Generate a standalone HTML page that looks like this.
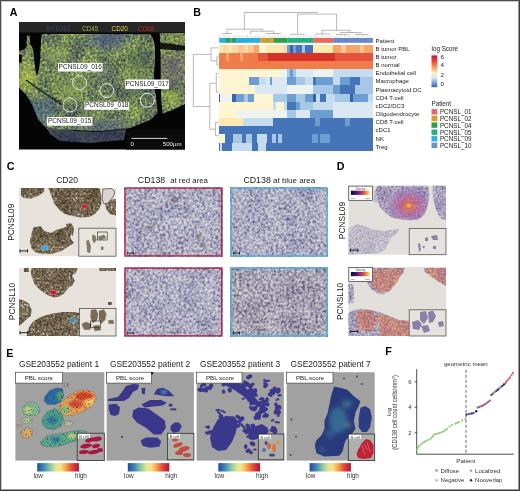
<!DOCTYPE html>
<html><head><meta charset="utf-8"><title>figure</title>
<style>
html,body{margin:0;padding:0;background:#fff;}
body{width:520px;height:491px;overflow:hidden;position:relative;font-family:"Liberation Sans",sans-serif;}
svg{position:absolute;left:0;top:0;display:block;will-change:transform;}
</style></head><body>
<svg width="520" height="491" viewBox="0 0 520 491" font-family="'Liberation Sans', sans-serif">
<defs><filter id="nA" x="0" y="0" width="100%" height="100%" color-interpolation-filters="sRGB">
<feTurbulence type="fractalNoise" baseFrequency="0.05" numOctaves="2" seed="3" result="lo0"/>
<feColorMatrix in="lo0" type="matrix" values="1 0 0 0 0 1 0 0 0 0 1 0 0 0 0 0 0 0 0 1" result="lo"/>
<feTurbulence type="fractalNoise" baseFrequency="0.42" numOctaves="2" seed="4" result="hi0"/>
<feColorMatrix in="hi0" type="matrix" values="1 0 0 0 0 1 0 0 0 0 1 0 0 0 0 0 0 0 0 1" result="hi"/>
<feComposite in="lo" in2="hi" operator="arithmetic" k1="0" k2="0.7" k3="1.5" k4="-0.55" result="mx"/>
<feColorMatrix in="mx" type="matrix" values="1 0 0 0 0 1 0 0 0 0 1 0 0 0 0 0 0 0 0 1"/>
<feComponentTransfer><feFuncR type="table" tableValues="0.157 0.259 0.361 0.463 0.569 0.706"/><feFuncG type="table" tableValues="0.188 0.314 0.431 0.541 0.651 0.776"/><feFuncB type="table" tableValues="0.306 0.376 0.361 0.345 0.337 0.412"/></feComponentTransfer><feGaussianBlur stdDeviation="0.35"/>
</filter>
<filter id="nBr" x="0" y="0" width="100%" height="100%" color-interpolation-filters="sRGB">
<feTurbulence type="fractalNoise" baseFrequency="0.07" numOctaves="2" seed="5" result="lo0"/>
<feColorMatrix in="lo0" type="matrix" values="1 0 0 0 0 1 0 0 0 0 1 0 0 0 0 0 0 0 0 1" result="lo"/>
<feTurbulence type="fractalNoise" baseFrequency="0.45" numOctaves="2" seed="6" result="hi0"/>
<feColorMatrix in="hi0" type="matrix" values="1 0 0 0 0 1 0 0 0 0 1 0 0 0 0 0 0 0 0 1" result="hi"/>
<feComposite in="lo" in2="hi" operator="arithmetic" k1="0" k2="0.6" k3="1.5" k4="-0.6" result="mx"/>
<feColorMatrix in="mx" type="matrix" values="1 0 0 0 0 1 0 0 0 0 1 0 0 0 0 0 0 0 0 1"/>
<feComponentTransfer><feFuncR type="table" tableValues="0.267 0.345 0.424 0.510 0.627 0.804"/><feFuncG type="table" tableValues="0.220 0.294 0.369 0.455 0.588 0.776"/><feFuncB type="table" tableValues="0.149 0.212 0.282 0.369 0.510 0.737"/></feComponentTransfer><feGaussianBlur stdDeviation="0.25"/>
</filter>
<filter id="nCD" x="0" y="0" width="100%" height="100%" color-interpolation-filters="sRGB">
<feTurbulence type="fractalNoise" baseFrequency="0.06" numOctaves="2" seed="9" result="lo0"/>
<feColorMatrix in="lo0" type="matrix" values="1 0 0 0 0 1 0 0 0 0 1 0 0 0 0 0 0 0 0 1" result="lo"/>
<feTurbulence type="fractalNoise" baseFrequency="0.38" numOctaves="2" seed="10" result="hi0"/>
<feColorMatrix in="hi0" type="matrix" values="1 0 0 0 0 1 0 0 0 0 1 0 0 0 0 0 0 0 0 1" result="hi"/>
<feComposite in="lo" in2="hi" operator="arithmetic" k1="0" k2="0.5" k3="1.7" k4="-0.55" result="mx"/>
<feColorMatrix in="mx" type="matrix" values="1 0 0 0 0 1 0 0 0 0 1 0 0 0 0 0 0 0 0 1"/>
<feComponentTransfer><feFuncR type="table" tableValues="0.373 0.494 0.608 0.706 0.784 0.855"/><feFuncG type="table" tableValues="0.384 0.502 0.612 0.698 0.773 0.839"/><feFuncB type="table" tableValues="0.557 0.651 0.722 0.773 0.808 0.839"/></feComponentTransfer><feGaussianBlur stdDeviation="0.3"/>
</filter>
<filter id="nCDb" x="0" y="0" width="100%" height="100%" color-interpolation-filters="sRGB">
<feTurbulence type="fractalNoise" baseFrequency="0.06" numOctaves="2" seed="15" result="lo0"/>
<feColorMatrix in="lo0" type="matrix" values="1 0 0 0 0 1 0 0 0 0 1 0 0 0 0 0 0 0 0 1" result="lo"/>
<feTurbulence type="fractalNoise" baseFrequency="0.38" numOctaves="2" seed="16" result="hi0"/>
<feColorMatrix in="hi0" type="matrix" values="1 0 0 0 0 1 0 0 0 0 1 0 0 0 0 0 0 0 0 1" result="hi"/>
<feComposite in="lo" in2="hi" operator="arithmetic" k1="0" k2="0.5" k3="1.7" k4="-0.6" result="mx"/>
<feColorMatrix in="mx" type="matrix" values="1 0 0 0 0 1 0 0 0 0 1 0 0 0 0 0 0 0 0 1"/>
<feComponentTransfer><feFuncR type="table" tableValues="0.392 0.502 0.608 0.698 0.776 0.839"/><feFuncG type="table" tableValues="0.376 0.478 0.588 0.675 0.757 0.824"/><feFuncB type="table" tableValues="0.490 0.588 0.667 0.729 0.776 0.816"/></feComponentTransfer><feGaussianBlur stdDeviation="0.3"/>
</filter>
<filter id="nD" x="0" y="0" width="100%" height="100%" color-interpolation-filters="sRGB">
<feTurbulence type="fractalNoise" baseFrequency="0.08" numOctaves="2" seed="11" result="lo0"/>
<feColorMatrix in="lo0" type="matrix" values="1 0 0 0 0 1 0 0 0 0 1 0 0 0 0 0 0 0 0 1" result="lo"/>
<feTurbulence type="fractalNoise" baseFrequency="0.5" numOctaves="2" seed="12" result="hi0"/>
<feColorMatrix in="hi0" type="matrix" values="1 0 0 0 0 1 0 0 0 0 1 0 0 0 0 0 0 0 0 1" result="hi"/>
<feComposite in="lo" in2="hi" operator="arithmetic" k1="0" k2="0.5" k3="1.4" k4="-0.45" result="mx"/>
<feColorMatrix in="mx" type="matrix" values="1 0 0 0 0 1 0 0 0 0 1 0 0 0 0 0 0 0 0 1"/>
<feComponentTransfer><feFuncR type="table" tableValues="0.431 0.549 0.659 0.765 0.855"/><feFuncG type="table" tableValues="0.392 0.510 0.627 0.745 0.839"/><feFuncB type="table" tableValues="0.588 0.675 0.745 0.804 0.847"/></feComponentTransfer>
</filter>
<filter id="nDo" x="0" y="0" width="100%" height="100%" color-interpolation-filters="sRGB">
<feTurbulence type="fractalNoise" baseFrequency="0.08" numOctaves="2" seed="13" result="lo0"/>
<feColorMatrix in="lo0" type="matrix" values="1 0 0 0 0 1 0 0 0 0 1 0 0 0 0 0 0 0 0 1" result="lo"/>
<feTurbulence type="fractalNoise" baseFrequency="0.5" numOctaves="2" seed="14" result="hi0"/>
<feColorMatrix in="hi0" type="matrix" values="1 0 0 0 0 1 0 0 0 0 1 0 0 0 0 0 0 0 0 1" result="hi"/>
<feComposite in="lo" in2="hi" operator="arithmetic" k1="0" k2="0.5" k3="1.4" k4="-0.45" result="mx"/>
<feColorMatrix in="mx" type="matrix" values="1 0 0 0 0 1 0 0 0 0 1 0 0 0 0 0 0 0 0 1"/>
<feComponentTransfer><feFuncR type="table" tableValues="0.471 0.667 0.824 0.882 0.894"/><feFuncG type="table" tableValues="0.353 0.392 0.490 0.627 0.784"/><feFuncB type="table" tableValues="0.549 0.471 0.373 0.471 0.706"/></feComponentTransfer>
</filter>
<filter id="spk" x="0" y="0" width="100%" height="100%" color-interpolation-filters="sRGB"><feTurbulence type="fractalNoise" baseFrequency="0.7" numOctaves="1" seed="21"/><feColorMatrix type="matrix" values="0 0 0 0 0.1 0 0 0 0 0.12 0 0 0 0 0.2 9 0 0 0 -5.2"/></filter></defs>
<text x="9.8" y="15.8" font-size="10.7" fill="#000" text-anchor="start" font-weight="bold" >A</text>
<text x="193.3" y="15.8" font-size="10.7" fill="#000" text-anchor="start" font-weight="bold" >B</text>
<text x="6.8" y="169.9" font-size="10.7" fill="#000" text-anchor="start" font-weight="bold" >C</text>
<text x="336.8" y="170.2" font-size="10.7" fill="#000" text-anchor="start" font-weight="bold" >D</text>
<text x="6.2" y="356.7" font-size="10.7" fill="#000" text-anchor="start" font-weight="bold" >E</text>
<text x="385.2" y="354.9" font-size="10.7" fill="#000" text-anchor="start" font-weight="bold" >F</text>
<rect x="19" y="22" width="166" height="127.5" fill="#050505"/>
<clipPath id="cA"><path d="M19,34 L150,34 L153,38 L155,46 L155,60 L154,75 L155,90 L157,100 L161,110 L150,120 L130,128 L100,131 L75,130 L48,130 L38.6,120 L31.7,103.8 L25.9,94.6 L19,87.7 Z"/><path d="M19,34 L19,35 Z"/><path d="M159.5,33 L185,33 L185,104 L172,110 L162,114 L160.5,100 L160.5,70 L160,50 Z"/><path d="M185,104 L185,104 Z"/></clipPath>
<rect x="19" y="33" width="166" height="100" filter="url(#nA)" clip-path="url(#cA)"/>
<filter id="blr" x="-50%" y="-50%" width="200%" height="200%"><feGaussianBlur stdDeviation="5"/></filter>
<g clip-path="url(#cA)" filter="url(#blr)" opacity="0.45"><ellipse cx="108" cy="40" rx="22" ry="9" fill="#3a4a9a"/><ellipse cx="38" cy="112" rx="18" ry="14" fill="#3a5a98"/><ellipse cx="174" cy="70" rx="12" ry="16" fill="#7a6078"/><ellipse cx="100" cy="126" rx="30" ry="6" fill="#3a4a9a"/></g>
<g clip-path="url(#cA)" filter="url(#blr)" opacity="0.5"><ellipse cx="27" cy="78" rx="10" ry="12" fill="#c8dc40"/><ellipse cx="172" cy="96" rx="8" ry="8" fill="#a8c040"/><ellipse cx="172" cy="37" rx="10" ry="4" fill="#b0c040"/></g>
<g clip-path="url(#cA)" filter="url(#blr)" opacity="0.35"><ellipse cx="70" cy="88" rx="14" ry="10" fill="#a8c850"/><ellipse cx="90" cy="115" rx="12" ry="8" fill="#a0c058"/><ellipse cx="60" cy="55" rx="12" ry="10" fill="#98b060"/></g>
<g clip-path="url(#cA)" filter="url(#blr)" opacity="0.35"><ellipse cx="140" cy="62" rx="12" ry="14" fill="#3a5040"/><ellipse cx="126" cy="96" rx="10" ry="8" fill="#3a5048"/><ellipse cx="105" cy="74" rx="8" ry="7" fill="#4a4a98"/></g>
<path d="M29.7,32.6 L42,32.6 L41.5,36 L41,42 L40.6,50 L40.2,58 L39.5,65 L38.8,70 L37,76 L35.6,71 L34.8,65 L34,58 L33.4,51 L32,47 L30,44 Z" fill="#050505"/>
<path d="M19,32.6 L27,32.6 L26.8,40 L26.5,47 L24,49.5 L19,51 Z" fill="#050505"/>
<path d="M26,32.6 L31,32.6 L30,35.7 L27,35.7 Z" fill="#050505"/>
<path d="M19,54 L21.8,55 L21.8,62 L19,63 Z" fill="#050505"/>
<path d="M150,33 L159.5,33 L160,42 L160.5,55 L160.5,70 L160.5,85 L161,98 L162.5,114 L158,114 L156.5,102 L155.5,90 L155,75 L155.5,60 L155.5,46 L153,38 Z" fill="#050505"/>
<path d="M160,42.5 L170,43.5 L185,46 L185,50.5 L172,50 L160,49 Z" fill="#050505" opacity="0.85"/>
<path d="M26,80 L40,90 L52,98 L64,106" stroke="#101418" stroke-width="1.7" fill="none" opacity="0.75"/>
<clipPath id="cAb"><path d="M46,127 L75,131 L100,132 L126,129 L124,140 L90,143 L60,141 L50,134 Z"/></clipPath>
<rect x="40" y="125" width="90" height="20" fill="#2a2c60" opacity="0.8" clip-path="url(#cAb)"/>
<rect x="40" y="125" width="90" height="20" filter="url(#nA)" opacity="0.3" clip-path="url(#cAb)"/>
<rect x="19" y="22" width="166" height="10.5" fill="#262626"/>
<text x="46" y="30.6" font-size="6.3" fill="#3c4478" text-anchor="start" font-weight="normal" >SYTO13</text>
<text x="82.2" y="30.6" font-size="6.3" fill="#a8b048" text-anchor="start" font-weight="normal" >CD45</text>
<text x="111.6" y="30.6" font-size="6.3" fill="#ecd840" text-anchor="start" font-weight="normal" >CD20</text>
<text x="138" y="30.6" font-size="6.3" fill="#c42424" text-anchor="start" font-weight="normal" >CD68</text>
<rect x="126" y="130" width="59" height="19.5" fill="#0a0a0a"/>
<line x1="131.5" y1="138.4" x2="167.4" y2="138.4" stroke="#eee" stroke-width="0.9"/>
<text x="132.3" y="145.8" font-size="6.2" fill="#eee" text-anchor="middle" font-weight="normal" >0</text>
<text x="162.7" y="145.8" font-size="6.2" fill="#eee" text-anchor="start" font-weight="normal" >500µm</text>
<circle cx="79.6" cy="82.6" r="7" fill="none" stroke="#f4f4f0" stroke-width="0.9"/>
<circle cx="106.8" cy="90.6" r="7" fill="none" stroke="#f4f4f0" stroke-width="0.9"/>
<circle cx="147.3" cy="100.2" r="7" fill="none" stroke="#f4f4f0" stroke-width="0.9"/>
<circle cx="70" cy="105" r="7" fill="none" stroke="#f4f4f0" stroke-width="0.9"/>
<rect x="58" y="62.9" width="44.599999999999994" height="8.600000000000001" fill="#fff"/>
<text x="80.3" y="68.8" font-size="6.5" fill="#222" text-anchor="middle" font-weight="normal" >PCNSL09_016</text>
<rect x="125.3" y="79.5" width="43.7" height="9.5" fill="#fff"/>
<text x="147.15" y="85.85" font-size="6.5" fill="#222" text-anchor="middle" font-weight="normal" >PCNSL09_017</text>
<rect x="84.4" y="101.8" width="44.599999999999994" height="8.0" fill="#fff"/>
<text x="106.7" y="107.39999999999999" font-size="6.5" fill="#222" text-anchor="middle" font-weight="normal" >PCNSL09_018</text>
<rect x="47" y="117" width="45.400000000000006" height="8.700000000000003" fill="#fff"/>
<text x="69.7" y="122.94999999999999" font-size="6.5" fill="#222" text-anchor="middle" font-weight="normal" >PCNSL09_015</text>
<filter id="hb" x="-2%" y="-2%" width="104%" height="104%"><feGaussianBlur stdDeviation="0.6"/></filter><g filter="url(#hb)">
<rect x="219.20" y="44.60" width="4.10" height="8.47" fill="#fde8ad" shape-rendering="crispEdges"/>
<rect x="223.00" y="44.60" width="5.30" height="8.47" fill="#fbd9a6" shape-rendering="crispEdges"/>
<rect x="228.00" y="44.60" width="4.30" height="8.47" fill="#fde8ad" shape-rendering="crispEdges"/>
<rect x="232.00" y="44.60" width="6.30" height="8.47" fill="#fbd9a6" shape-rendering="crispEdges"/>
<rect x="238.00" y="44.60" width="6.30" height="8.47" fill="#f9c794" shape-rendering="crispEdges"/>
<rect x="244.00" y="44.60" width="4.30" height="8.47" fill="#fbd9a6" shape-rendering="crispEdges"/>
<rect x="248.00" y="44.60" width="6.30" height="8.47" fill="#f9c794" shape-rendering="crispEdges"/>
<rect x="254.00" y="44.60" width="5.30" height="8.47" fill="#f6a468" shape-rendering="crispEdges"/>
<rect x="259.00" y="44.60" width="7.30" height="8.47" fill="#fef5d2" shape-rendering="crispEdges"/>
<rect x="266.00" y="44.60" width="7.30" height="8.47" fill="#fde8ad" shape-rendering="crispEdges"/>
<rect x="273.00" y="44.60" width="10.30" height="8.47" fill="#fde8ad" shape-rendering="crispEdges"/>
<rect x="283.00" y="44.60" width="4.30" height="8.47" fill="#fbd9a6" shape-rendering="crispEdges"/>
<rect x="287.00" y="44.60" width="3.30" height="8.47" fill="#6d9ed2" shape-rendering="crispEdges"/>
<rect x="290.00" y="44.60" width="3.30" height="8.47" fill="#3464ad" shape-rendering="crispEdges"/>
<rect x="293.00" y="44.60" width="3.30" height="8.47" fill="#6d9ed2" shape-rendering="crispEdges"/>
<rect x="296.00" y="44.60" width="6.30" height="8.47" fill="#4574b8" shape-rendering="crispEdges"/>
<rect x="302.00" y="44.60" width="3.30" height="8.47" fill="#a6c7e5" shape-rendering="crispEdges"/>
<rect x="305.00" y="44.60" width="8.30" height="8.47" fill="#4574b8" shape-rendering="crispEdges"/>
<rect x="313.00" y="44.60" width="20.30" height="8.47" fill="#fde8ad" shape-rendering="crispEdges"/>
<rect x="333.00" y="44.60" width="8.30" height="8.47" fill="#f6a468" shape-rendering="crispEdges"/>
<rect x="341.00" y="44.60" width="5.30" height="8.47" fill="#f9c794" shape-rendering="crispEdges"/>
<rect x="346.00" y="44.60" width="14.30" height="8.47" fill="#f6a468" shape-rendering="crispEdges"/>
<rect x="360.00" y="44.60" width="4.30" height="8.47" fill="#f9c794" shape-rendering="crispEdges"/>
<rect x="364.00" y="44.60" width="9.30" height="8.47" fill="#f6a468" shape-rendering="crispEdges"/>
<rect x="219.20" y="52.77" width="7.10" height="8.47" fill="#f07c4a" shape-rendering="crispEdges"/>
<rect x="226.00" y="52.77" width="3.30" height="8.47" fill="#f6a468" shape-rendering="crispEdges"/>
<rect x="229.00" y="52.77" width="11.30" height="8.47" fill="#f07c4a" shape-rendering="crispEdges"/>
<rect x="240.00" y="52.77" width="3.30" height="8.47" fill="#f6a468" shape-rendering="crispEdges"/>
<rect x="243.00" y="52.77" width="15.30" height="8.47" fill="#f07c4a" shape-rendering="crispEdges"/>
<rect x="258.00" y="52.77" width="10.30" height="8.47" fill="#e5553a" shape-rendering="crispEdges"/>
<rect x="268.00" y="52.77" width="17.30" height="8.47" fill="#d73027" shape-rendering="crispEdges"/>
<rect x="285.00" y="52.77" width="11.30" height="8.47" fill="#d73027" shape-rendering="crispEdges"/>
<rect x="296.00" y="52.77" width="39.30" height="8.47" fill="#d73027" shape-rendering="crispEdges"/>
<rect x="335.00" y="52.77" width="38.30" height="8.47" fill="#e5553a" shape-rendering="crispEdges"/>
<rect x="219.20" y="60.94" width="21.10" height="8.47" fill="#f07c4a" shape-rendering="crispEdges"/>
<rect x="240.00" y="60.94" width="18.30" height="8.47" fill="#f07c4a" shape-rendering="crispEdges"/>
<rect x="258.00" y="60.94" width="29.30" height="8.47" fill="#f07c4a" shape-rendering="crispEdges"/>
<rect x="287.00" y="60.94" width="86.30" height="8.47" fill="#f07c4a" shape-rendering="crispEdges"/>
<rect x="219.20" y="69.11" width="61.10" height="8.47" fill="#fef5d2" shape-rendering="crispEdges"/>
<rect x="280.00" y="69.11" width="7.30" height="8.47" fill="#eef3ef" shape-rendering="crispEdges"/>
<rect x="287.00" y="69.11" width="3.30" height="8.47" fill="#a6c7e5" shape-rendering="crispEdges"/>
<rect x="290.00" y="69.11" width="3.30" height="8.47" fill="#6d9ed2" shape-rendering="crispEdges"/>
<rect x="293.00" y="69.11" width="3.30" height="8.47" fill="#a6c7e5" shape-rendering="crispEdges"/>
<rect x="296.00" y="69.11" width="17.30" height="8.47" fill="#d9e8f2" shape-rendering="crispEdges"/>
<rect x="313.00" y="69.11" width="20.30" height="8.47" fill="#eef3ef" shape-rendering="crispEdges"/>
<rect x="333.00" y="69.11" width="40.30" height="8.47" fill="#c4dcee" shape-rendering="crispEdges"/>
<rect x="219.20" y="77.28" width="30.10" height="8.47" fill="#fef5d2" shape-rendering="crispEdges"/>
<rect x="249.00" y="77.28" width="10.30" height="8.47" fill="#6d9ed2" shape-rendering="crispEdges"/>
<rect x="259.00" y="77.28" width="7.30" height="8.47" fill="#c4dcee" shape-rendering="crispEdges"/>
<rect x="266.00" y="77.28" width="4.30" height="8.47" fill="#d9e8f2" shape-rendering="crispEdges"/>
<rect x="270.00" y="77.28" width="2.30" height="8.47" fill="#6d9ed2" shape-rendering="crispEdges"/>
<rect x="272.00" y="77.28" width="15.30" height="8.47" fill="#d9e8f2" shape-rendering="crispEdges"/>
<rect x="287.00" y="77.28" width="9.30" height="8.47" fill="#6d9ed2" shape-rendering="crispEdges"/>
<rect x="296.00" y="77.28" width="9.30" height="8.47" fill="#a6c7e5" shape-rendering="crispEdges"/>
<rect x="305.00" y="77.28" width="8.30" height="8.47" fill="#c4dcee" shape-rendering="crispEdges"/>
<rect x="313.00" y="77.28" width="3.30" height="8.47" fill="#4574b8" shape-rendering="crispEdges"/>
<rect x="316.00" y="77.28" width="17.30" height="8.47" fill="#6d9ed2" shape-rendering="crispEdges"/>
<rect x="333.00" y="77.28" width="7.30" height="8.47" fill="#c4dcee" shape-rendering="crispEdges"/>
<rect x="340.00" y="77.28" width="10.30" height="8.47" fill="#6d9ed2" shape-rendering="crispEdges"/>
<rect x="350.00" y="77.28" width="10.30" height="8.47" fill="#4574b8" shape-rendering="crispEdges"/>
<rect x="360.00" y="77.28" width="13.30" height="8.47" fill="#a6c7e5" shape-rendering="crispEdges"/>
<rect x="219.20" y="85.45" width="36.10" height="8.47" fill="#fef5d2" shape-rendering="crispEdges"/>
<rect x="255.00" y="85.45" width="32.30" height="8.47" fill="#d9e8f2" shape-rendering="crispEdges"/>
<rect x="287.00" y="85.45" width="9.30" height="8.47" fill="#eef3ef" shape-rendering="crispEdges"/>
<rect x="296.00" y="85.45" width="17.30" height="8.47" fill="#eef3ef" shape-rendering="crispEdges"/>
<rect x="313.00" y="85.45" width="20.30" height="8.47" fill="#a6c7e5" shape-rendering="crispEdges"/>
<rect x="333.00" y="85.45" width="7.30" height="8.47" fill="#6d9ed2" shape-rendering="crispEdges"/>
<rect x="340.00" y="85.45" width="15.30" height="8.47" fill="#4574b8" shape-rendering="crispEdges"/>
<rect x="355.00" y="85.45" width="18.30" height="8.47" fill="#a6c7e5" shape-rendering="crispEdges"/>
<rect x="219.20" y="93.62" width="1.10" height="8.47" fill="#3464ad" shape-rendering="crispEdges"/>
<rect x="220.00" y="93.62" width="12.30" height="8.47" fill="#eef3ef" shape-rendering="crispEdges"/>
<rect x="232.00" y="93.62" width="4.30" height="8.47" fill="#3464ad" shape-rendering="crispEdges"/>
<rect x="236.00" y="93.62" width="8.30" height="8.47" fill="#6d9ed2" shape-rendering="crispEdges"/>
<rect x="244.00" y="93.62" width="4.30" height="8.47" fill="#a6c7e5" shape-rendering="crispEdges"/>
<rect x="248.00" y="93.62" width="6.30" height="8.47" fill="#6d9ed2" shape-rendering="crispEdges"/>
<rect x="254.00" y="93.62" width="19.30" height="8.47" fill="#fef5d2" shape-rendering="crispEdges"/>
<rect x="273.00" y="93.62" width="14.30" height="8.47" fill="#a6c7e5" shape-rendering="crispEdges"/>
<rect x="287.00" y="93.62" width="9.30" height="8.47" fill="#6d9ed2" shape-rendering="crispEdges"/>
<rect x="296.00" y="93.62" width="9.30" height="8.47" fill="#a6c7e5" shape-rendering="crispEdges"/>
<rect x="305.00" y="93.62" width="8.30" height="8.47" fill="#6d9ed2" shape-rendering="crispEdges"/>
<rect x="313.00" y="93.62" width="3.30" height="8.47" fill="#3464ad" shape-rendering="crispEdges"/>
<rect x="316.00" y="93.62" width="4.30" height="8.47" fill="#c4dcee" shape-rendering="crispEdges"/>
<rect x="320.00" y="93.62" width="6.30" height="8.47" fill="#4574b8" shape-rendering="crispEdges"/>
<rect x="326.00" y="93.62" width="9.30" height="8.47" fill="#c4dcee" shape-rendering="crispEdges"/>
<rect x="335.00" y="93.62" width="15.30" height="8.47" fill="#a6c7e5" shape-rendering="crispEdges"/>
<rect x="350.00" y="93.62" width="3.30" height="8.47" fill="#3464ad" shape-rendering="crispEdges"/>
<rect x="353.00" y="93.62" width="15.30" height="8.47" fill="#6d9ed2" shape-rendering="crispEdges"/>
<rect x="368.00" y="93.62" width="5.30" height="8.47" fill="#c4dcee" shape-rendering="crispEdges"/>
<rect x="219.20" y="101.78" width="54.10" height="8.47" fill="#fef5d2" shape-rendering="crispEdges"/>
<rect x="273.00" y="101.78" width="3.30" height="8.47" fill="#c4dcee" shape-rendering="crispEdges"/>
<rect x="276.00" y="101.78" width="8.30" height="8.47" fill="#fef5d2" shape-rendering="crispEdges"/>
<rect x="284.00" y="101.78" width="3.30" height="8.47" fill="#c4dcee" shape-rendering="crispEdges"/>
<rect x="287.00" y="101.78" width="9.30" height="8.47" fill="#4574b8" shape-rendering="crispEdges"/>
<rect x="296.00" y="101.78" width="4.30" height="8.47" fill="#6d9ed2" shape-rendering="crispEdges"/>
<rect x="300.00" y="101.78" width="13.30" height="8.47" fill="#a6c7e5" shape-rendering="crispEdges"/>
<rect x="313.00" y="101.78" width="20.30" height="8.47" fill="#c4dcee" shape-rendering="crispEdges"/>
<rect x="333.00" y="101.78" width="40.30" height="8.47" fill="#d9e8f2" shape-rendering="crispEdges"/>
<rect x="219.20" y="109.95" width="17.10" height="8.47" fill="#fef5d2" shape-rendering="crispEdges"/>
<rect x="236.00" y="109.95" width="51.30" height="8.47" fill="#eef3ef" shape-rendering="crispEdges"/>
<rect x="287.00" y="109.95" width="9.30" height="8.47" fill="#a6c7e5" shape-rendering="crispEdges"/>
<rect x="296.00" y="109.95" width="14.30" height="8.47" fill="#d9e8f2" shape-rendering="crispEdges"/>
<rect x="310.00" y="109.95" width="23.30" height="8.47" fill="#6d9ed2" shape-rendering="crispEdges"/>
<rect x="333.00" y="109.95" width="40.30" height="8.47" fill="#d9e8f2" shape-rendering="crispEdges"/>
<rect x="219.20" y="118.12" width="24.10" height="8.47" fill="#fde8ad" shape-rendering="crispEdges"/>
<rect x="243.00" y="118.12" width="30.30" height="8.47" fill="#c4dcee" shape-rendering="crispEdges"/>
<rect x="273.00" y="118.12" width="23.30" height="8.47" fill="#4574b8" shape-rendering="crispEdges"/>
<rect x="296.00" y="118.12" width="19.30" height="8.47" fill="#4574b8" shape-rendering="crispEdges"/>
<rect x="315.00" y="118.12" width="5.30" height="8.47" fill="#6d9ed2" shape-rendering="crispEdges"/>
<rect x="320.00" y="118.12" width="25.30" height="8.47" fill="#4574b8" shape-rendering="crispEdges"/>
<rect x="345.00" y="118.12" width="5.30" height="8.47" fill="#6d9ed2" shape-rendering="crispEdges"/>
<rect x="350.00" y="118.12" width="23.30" height="8.47" fill="#4574b8" shape-rendering="crispEdges"/>
<rect x="219.20" y="126.29" width="154.10" height="8.47" fill="#4574b8" shape-rendering="crispEdges"/>
<rect x="219.20" y="134.46" width="6.10" height="8.47" fill="#fef5d2" shape-rendering="crispEdges"/>
<rect x="225.00" y="134.46" width="8.30" height="8.47" fill="#4574b8" shape-rendering="crispEdges"/>
<rect x="233.00" y="134.46" width="9.30" height="8.47" fill="#a6c7e5" shape-rendering="crispEdges"/>
<rect x="242.00" y="134.46" width="4.30" height="8.47" fill="#4574b8" shape-rendering="crispEdges"/>
<rect x="246.00" y="134.46" width="6.30" height="8.47" fill="#a6c7e5" shape-rendering="crispEdges"/>
<rect x="252.00" y="134.46" width="5.30" height="8.47" fill="#4574b8" shape-rendering="crispEdges"/>
<rect x="257.00" y="134.46" width="10.30" height="8.47" fill="#c4dcee" shape-rendering="crispEdges"/>
<rect x="267.00" y="134.46" width="5.30" height="8.47" fill="#4574b8" shape-rendering="crispEdges"/>
<rect x="272.00" y="134.46" width="4.30" height="8.47" fill="#a6c7e5" shape-rendering="crispEdges"/>
<rect x="276.00" y="134.46" width="2.30" height="8.47" fill="#4574b8" shape-rendering="crispEdges"/>
<rect x="278.00" y="134.46" width="4.30" height="8.47" fill="#a6c7e5" shape-rendering="crispEdges"/>
<rect x="282.00" y="134.46" width="30.30" height="8.47" fill="#4574b8" shape-rendering="crispEdges"/>
<rect x="312.00" y="134.46" width="6.30" height="8.47" fill="#6d9ed2" shape-rendering="crispEdges"/>
<rect x="318.00" y="134.46" width="2.30" height="8.47" fill="#4574b8" shape-rendering="crispEdges"/>
<rect x="320.00" y="134.46" width="10.30" height="8.47" fill="#6d9ed2" shape-rendering="crispEdges"/>
<rect x="330.00" y="134.46" width="43.30" height="8.47" fill="#4574b8" shape-rendering="crispEdges"/>
<rect x="219.20" y="142.63" width="1.10" height="8.47" fill="#4574b8" shape-rendering="crispEdges"/>
<rect x="220.00" y="142.63" width="2.30" height="8.47" fill="#c4dcee" shape-rendering="crispEdges"/>
<rect x="222.00" y="142.63" width="10.30" height="8.47" fill="#4574b8" shape-rendering="crispEdges"/>
<rect x="232.00" y="142.63" width="20.30" height="8.47" fill="#c4dcee" shape-rendering="crispEdges"/>
<rect x="252.00" y="142.63" width="6.30" height="8.47" fill="#4574b8" shape-rendering="crispEdges"/>
<rect x="258.00" y="142.63" width="8.30" height="8.47" fill="#c4dcee" shape-rendering="crispEdges"/>
<rect x="266.00" y="142.63" width="107.30" height="8.47" fill="#4574b8" shape-rendering="crispEdges"/>
</g>
<rect x="219.20" y="38" width="6.80" height="4.8" fill="#29aee3"/>
<rect x="225.80" y="38" width="4.80" height="4.8" fill="#2ca14a"/>
<rect x="230.40" y="38" width="1.80" height="4.8" fill="#29aee3"/>
<rect x="232.00" y="38" width="4.00" height="4.8" fill="#2ca14a"/>
<rect x="235.80" y="38" width="24.80" height="4.8" fill="#29aee3"/>
<rect x="260.40" y="38" width="5.60" height="4.8" fill="#e8961c"/>
<rect x="265.80" y="38" width="2.40" height="4.8" fill="#7bb060"/>
<rect x="268.00" y="38" width="5.70" height="4.8" fill="#e8961c"/>
<rect x="273.50" y="38" width="14.00" height="4.8" fill="#2ca14a"/>
<rect x="287.30" y="38" width="26.30" height="4.8" fill="#22b07c"/>
<rect x="313.40" y="38" width="20.10" height="4.8" fill="#e8685a"/>
<rect x="333.30" y="38" width="39.60" height="4.8" fill="#6688cc"/>
<path d="M244.4,12.5L317.8,12.5M244.4,12.5L244.4,29.2M297.6,14.1L336.6,14.1M297.6,14.1L297.6,34.3M336.6,14.1L336.6,30.3M227,29.2L262.4,29.2M227,29.2L227,33.5M262.4,29.2L262.4,31.2M250.4,31.2L273.5,31.2M250.4,31.2L250.4,34M273.5,31.2L273.5,33.5M222,33.5L232,33.5M266,33.5L281,33.5M290,34.3L305,34.3M322,30.3L350,30.3M322,30.3L322,34M350,30.3L350,32.5M340,32.5L362,32.5M315,34L330,34M336,34.5L348,34.5M355,34.5L368,34.5M193.3,54.4L193.3,106.5M193.3,54.4L211,54.4M211,47.9L211,60.9M211,47.9L218,47.9M211,60.9L216.9,60.9M216.9,56.8L216.9,65M216.9,56.8L218.5,56.8M216.9,65L218.5,65M193.3,106.5L209.8,106.5M209.8,83.3L209.8,129.2M209.8,83.3L216.3,83.3M216.3,73.3L216.3,92M216.3,73.3L218.5,73.3M216.3,92L218.5,92M209.8,129.2L215.4,129.2M215.4,122.4L215.4,135.7M215.4,122.4L218.5,122.4M215.4,135.7L218.5,135.7" stroke="#8a8a8a" stroke-width="0.6" fill="none"/>
<path d="M219.5,35.5L219.5,37.6M224.6,35.7L224.6,37.6M229.7,35.6L229.7,37.6M234.8,35.2L234.8,37.6M239.9,35.2L239.9,37.6M245.0,35.3L245.0,37.6M250.1,35.5L250.1,37.6M255.2,35.3L255.2,37.6M260.3,35.7L260.3,37.6M265.4,35.7L265.4,37.6M270.5,36.0L270.5,37.6M275.6,35.9L275.6,37.6M280.7,35.3L280.7,37.6M285.8,35.4L285.8,37.6M290.9,35.3L290.9,37.6M296.0,35.7L296.0,37.6M301.1,35.6L301.1,37.6M306.2,35.2L306.2,37.6M311.3,35.7L311.3,37.6M316.4,35.5L316.4,37.6M321.5,35.6L321.5,37.6M326.6,35.8L326.6,37.6M331.7,35.4L331.7,37.6M336.8,35.6L336.8,37.6M341.9,35.8L341.9,37.6M347.0,36.0L347.0,37.6M352.1,35.5L352.1,37.6M357.2,35.3L357.2,37.6M362.3,35.2L362.3,37.6M367.4,35.8L367.4,37.6" stroke="#d4a8a8" stroke-width="0.5" fill="none"/>
<path d="M222.1,35.3L222.1,37.6M227.2,35.3L227.2,37.6M232.2,35.5L232.2,37.6M237.3,35.6L237.3,37.6M242.4,35.5L242.4,37.6M247.6,35.3L247.6,37.6M252.7,35.9L252.7,37.6M257.8,35.4L257.8,37.6M262.9,36.0L262.9,37.6M267.9,35.5L267.9,37.6M273.1,35.2L273.1,37.6M278.1,35.4L278.1,37.6M283.2,35.3L283.2,37.6M288.4,35.9L288.4,37.6M293.4,35.7L293.4,37.6M298.6,35.5L298.6,37.6M303.6,35.3L303.6,37.6M308.8,35.4L308.8,37.6M313.9,35.5L313.9,37.6M318.9,35.7L318.9,37.6M324.1,35.4L324.1,37.6M329.1,35.8L329.1,37.6M334.2,35.7L334.2,37.6M339.4,35.9L339.4,37.6M344.4,35.4L344.4,37.6M349.5,35.3L349.5,37.6M354.6,35.8L354.6,37.6M359.8,35.6L359.8,37.6M364.9,35.7L364.9,37.6M369.9,35.7L369.9,37.6" stroke="#a8b8a8" stroke-width="0.5" fill="none"/>
<text x="375.6" y="42.800000000000004" font-size="6.0" fill="#222" text-anchor="start" font-weight="normal" >Patient</text>
<text x="375.6" y="50.784615384615385" font-size="6.0" fill="#222" text-anchor="start" font-weight="normal" >B tumor PBL</text>
<text x="375.6" y="58.95384615384616" font-size="6.0" fill="#222" text-anchor="start" font-weight="normal" >B tumor</text>
<text x="375.6" y="67.12307692307692" font-size="6.0" fill="#222" text-anchor="start" font-weight="normal" >B normal</text>
<text x="375.6" y="75.29230769230769" font-size="6.0" fill="#222" text-anchor="start" font-weight="normal" >Endothelial cell</text>
<text x="375.6" y="83.46153846153845" font-size="6.0" fill="#222" text-anchor="start" font-weight="normal" >Macrophage</text>
<text x="375.6" y="91.63076923076923" font-size="6.0" fill="#222" text-anchor="start" font-weight="normal" >Plasmacytoid DC</text>
<text x="375.6" y="99.80000000000001" font-size="6.0" fill="#222" text-anchor="start" font-weight="normal" >CD4 T-cell</text>
<text x="375.6" y="107.96923076923078" font-size="6.0" fill="#222" text-anchor="start" font-weight="normal" >cDC2/DC3</text>
<text x="375.6" y="116.13846153846154" font-size="6.0" fill="#222" text-anchor="start" font-weight="normal" >Oligodendrocyte</text>
<text x="375.6" y="124.30769230769232" font-size="6.0" fill="#222" text-anchor="start" font-weight="normal" >CD8 T-cell</text>
<text x="375.6" y="132.47692307692307" font-size="6.0" fill="#222" text-anchor="start" font-weight="normal" >cDC1</text>
<text x="375.6" y="140.64615384615385" font-size="6.0" fill="#222" text-anchor="start" font-weight="normal" >NK</text>
<text x="375.6" y="148.81538461538463" font-size="6.0" fill="#222" text-anchor="start" font-weight="normal" >Treg</text>
<text x="431.5" y="51.1" font-size="6.3" fill="#222" text-anchor="start" font-weight="normal" >log Score</text>
<linearGradient id="gLS" x1="0" y1="0" x2="0" y2="1"><stop offset="0" stop-color="#c8102e"/><stop offset="0.2" stop-color="#e8503a"/><stop offset="0.4" stop-color="#fba85e"/><stop offset="0.55" stop-color="#fef2c0"/><stop offset="0.7" stop-color="#d8eaf4"/><stop offset="0.85" stop-color="#7aaad6"/><stop offset="1" stop-color="#3a62a8"/></linearGradient>
<rect x="431.5" y="55.4" width="5.8" height="31.8" fill="url(#gLS)"/>
<text x="440.4" y="58.800000000000004" font-size="6.2" fill="#222" text-anchor="start" font-weight="normal" >6</text>
<text x="440.4" y="67.1" font-size="6.2" fill="#222" text-anchor="start" font-weight="normal" >4</text>
<text x="440.4" y="76.6" font-size="6.2" fill="#222" text-anchor="start" font-weight="normal" >2</text>
<text x="440.4" y="86.0" font-size="6.2" fill="#222" text-anchor="start" font-weight="normal" >0</text>
<text x="431.5" y="106.1" font-size="6.3" fill="#222" text-anchor="start" font-weight="normal" >Patient</text>
<rect x="431.5" y="109.10000000000001" width="5.8" height="5.4" fill="#e06a66"/>
<text x="439.9" y="114.30000000000001" font-size="6.3" fill="#222" text-anchor="start" font-weight="normal" >PCNSL_01</text>
<rect x="431.5" y="115.7" width="5.8" height="5.4" fill="#d99a2a"/>
<text x="439.9" y="120.9" font-size="6.3" fill="#222" text-anchor="start" font-weight="normal" >PCNSL_02</text>
<rect x="431.5" y="122.4" width="5.8" height="5.4" fill="#2e9c48"/>
<text x="439.9" y="127.60000000000001" font-size="6.3" fill="#222" text-anchor="start" font-weight="normal" >PCNSL_04</text>
<rect x="431.5" y="129.5" width="5.8" height="5.4" fill="#26b07e"/>
<text x="439.9" y="134.70000000000002" font-size="6.3" fill="#222" text-anchor="start" font-weight="normal" >PCNSL_05</text>
<rect x="431.5" y="136.1" width="5.8" height="5.4" fill="#2bb0e4"/>
<text x="439.9" y="141.3" font-size="6.3" fill="#222" text-anchor="start" font-weight="normal" >PCNSL_09</text>
<rect x="431.5" y="142.7" width="5.8" height="5.4" fill="#6f8ed0"/>
<text x="439.9" y="147.9" font-size="6.3" fill="#222" text-anchor="start" font-weight="normal" >PCNSL_10</text>
<text x="67" y="183" font-size="8.5" fill="#222" text-anchor="middle" font-weight="normal" >CD20</text>
<text x="137.8" y="183.3" font-size="8.8" fill="#222">CD138</text><text x="170.2" y="183.3" font-size="7.8" fill="#222">at red area</text>
<text x="243.4" y="183.3" font-size="8.8" fill="#222">CD138</text><text x="273" y="183.3" font-size="8.0" fill="#222">at blue area</text>
<text x="14.5" y="222.2" font-size="8.4" fill="#222" text-anchor="middle" transform="rotate(-90 14.5 222.2)">PCNSL09</text>
<text x="14.5" y="301.5" font-size="8.4" fill="#222" text-anchor="middle" transform="rotate(-90 14.5 301.5)">PCNSL10</text>
<rect x="19" y="188" width="97" height="68.2" fill="#e7e3dc"/>
<clipPath id="c19_188"><path d="M21,188 L44.5,188 L44,192 L38,196 L30,198.7 L24,198 L21,196 Z"/><path d="M48.4,188 L99.4,188 L101.3,196 L101.3,203.7 L99.4,208.6 L95.5,213.5 L89.6,217 L79.8,217.4 L70,215.4 L64,213.5 L59.2,209.5 L54.3,203.7 L51.3,195.8 Z"/><path d="M105,201.7 L110,200 L116,199 L116,215.4 L110,214 L106,209 Z"/><path d="M33.7,227.2 L40.5,226.2 L44.5,231.1 L51.3,233.1 L56.2,230.1 L62.1,228.2 L70,225.2 L72.9,231.1 L70,237 L73.9,242.9 L68,246.8 L62.1,250.7 L52.3,253.7 L42.5,253.7 L36.6,252.7 L31.7,248.8 L29.8,240.9 L31.7,233.1 Z"/><path d="M66,224 L71,223 L74,228 L73,236 L69,233 Z"/></clipPath>
<rect x="19" y="188" width="97" height="68.2" filter="url(#nBr)" clip-path="url(#c19_188)"/>
<rect x="78.8" y="228.2" width="37.2" height="28.0" fill="#e9e6e0" stroke="#555" stroke-width="0.8"/>
<path d="M103,189 L112,188.5 L115,192 L113,197 L108,203 L104,204 L102,199 Z" fill="#d8d6d2" stroke="#5a5048" stroke-width="0.8"/><g fill="#8a7a62" stroke="#555" stroke-width="0.4"><path d="M86.6,241 L88.5,240 L90.6,246 L90,252.7 L87.5,252 Z"/><path d="M92.5,235 L95,235.5 L96.4,240 L94,243 L92.5,240 Z"/><path d="M101.3,246.8 L103.3,247 L103,249.8 L101.3,249.5 Z"/><path d="M98,237 L104,235 L106,238 L100,240 Z"/></g><rect x="97.4" y="232" width="9.8" height="8" fill="none" stroke="#222" stroke-width="0.6"/>
<rect x="81.7" y="204.2" width="5.5" height="4" rx="0.8" fill="#c41e36" stroke="#e8a0a8" stroke-width="0.4"/>
<rect x="41.5" y="245.8" width="6.5" height="4" rx="0.5" fill="#3aa6d6" stroke="#b0e0f0" stroke-width="0.4" opacity="1"/>
<path d="M20,250.9L27.5,250.9M20,249.3L20,252.5M27.5,249.3L27.5,252.5" stroke="#222" stroke-width="1"/>
<rect x="19" y="268" width="97" height="68.2" fill="#e7e3dc"/>
<clipPath id="c19_268"><path d="M23.9,268 L28.8,268 L28.8,271.9 L23.9,271.9 Z"/><path d="M31.7,268 L77.8,268 L75.8,272.8 L71.9,275.8 L74.9,280.7 L72.9,284.6 L68,288.5 L64.1,293.4 L59.2,296.4 L54.3,297.4 L48.4,295.4 L40.5,290.5 L34.7,284.6 L31.7,276.8 L30.7,270.9 Z"/><path d="M99.4,268 L116,268 L116,270.9 L99.4,270.9 Z"/><path d="M19,299.3 L22.9,300.3 L28.8,303.3 L31.7,310.1 L30.7,316 L25.8,319.9 L21.9,323.8 L19,325.8 Z"/><path d="M26.8,336 L28.8,327.8 L32.7,321.9 L40.5,317 L50.3,314 L62.1,312.1 L73.9,312.1 L80,313.1 L80,336 Z"/><path d="M108,302 L112,302 L112,305 L108,305 Z"/></clipPath>
<rect x="19" y="268" width="97" height="68.2" filter="url(#nBr)" clip-path="url(#c19_268)"/>
<rect x="79.4" y="308.5" width="36.599999999999994" height="27.5" fill="#e9e6e0" stroke="#555" stroke-width="0.8"/>
<g fill="#7d6a52" stroke="#666" stroke-width="0.3"><path d="M91,310 L96,309.5 L98,314 L97,320 L93,323 L90.6,318 Z"/><path d="M99,311 L104,309.5 L106.3,314 L105,320 L101,323.8 L99,319 Z"/><path d="M81.7,324 L86,322 L91.5,324 L90,329.7 L84,329.5 Z"/><path d="M108.2,320.5 L113,320 L114,323.5 L109,323.8 Z"/><path d="M93,326 L99,325 L101,330 L95,331 Z"/></g><rect x="90.6" y="321" width="9.8" height="6.8" fill="none" stroke="#222" stroke-width="0.6"/>
<rect x="50.3" y="290.5" width="6" height="4" rx="0.8" fill="#c41e36" stroke="#e8a0a8" stroke-width="0.4"/>
<rect x="70" y="318" width="6.8" height="4.9" rx="0.5" fill="#3aa6d6" stroke="#b0e0f0" stroke-width="0.4" opacity="0.6"/>
<path d="M20,332.7L27.5,332.7M20,331.09999999999997L20,334.3M27.5,331.09999999999997L27.5,334.3" stroke="#222" stroke-width="1"/>
<rect x="124.3" y="187.4" width="98.10000000000001" height="69.20000000000002" filter="url(#nCD)"/>
<rect x="125.0" y="188.1" width="96.7" height="67.80000000000001" fill="none" stroke="#ad2f4e" stroke-width="1.4"/>
<path d="M127.3,253.10000000000002L133.3,253.10000000000002M127.3,251.60000000000002L127.3,254.60000000000002M133.3,251.60000000000002L133.3,254.60000000000002" stroke="#222" stroke-width="0.9"/>
<rect x="230.5" y="187.4" width="97.10000000000002" height="69.20000000000002" filter="url(#nCD)"/>
<rect x="231.2" y="188.1" width="95.70000000000002" height="67.80000000000001" fill="none" stroke="#4fb0dc" stroke-width="1.4"/>
<path d="M233.5,253.10000000000002L239.5,253.10000000000002M233.5,251.60000000000002L233.5,254.60000000000002M239.5,251.60000000000002L239.5,254.60000000000002" stroke="#222" stroke-width="0.9"/>
<rect x="124.3" y="267.5" width="98.10000000000001" height="69.0" filter="url(#nCD)"/>
<rect x="125.0" y="268.2" width="96.7" height="67.6" fill="none" stroke="#ad2f4e" stroke-width="1.4"/>
<path d="M127.3,333.0L133.3,333.0M127.3,331.5L127.3,334.5M133.3,331.5L133.3,334.5" stroke="#222" stroke-width="0.9"/>
<ellipse cx="174" cy="200" rx="2" ry="3" fill="#7a6048" opacity="0.7" filter="url(#soft)"/>
<ellipse cx="150" cy="228" rx="3" ry="1.5" fill="#7a6048" opacity="0.7" filter="url(#soft)"/>
<ellipse cx="154" cy="224" rx="1.5" ry="1.5" fill="#7a6048" opacity="0.7" filter="url(#soft)"/>
<ellipse cx="198" cy="237" rx="2" ry="3" fill="#7a6048" opacity="0.7" filter="url(#soft)"/>
<ellipse cx="203" cy="245" rx="2.5" ry="2" fill="#7a6048" opacity="0.7" filter="url(#soft)"/>
<ellipse cx="142" cy="229" rx="1.5" ry="1.5" fill="#7a6048" opacity="0.7" filter="url(#soft)"/>
<ellipse cx="167" cy="205" rx="1.2" ry="1.2" fill="#7a6048" opacity="0.7" filter="url(#soft)"/>
<ellipse cx="190" cy="213" rx="1.2" ry="1.2" fill="#7a6048" opacity="0.7" filter="url(#soft)"/>
<ellipse cx="150" cy="290" rx="1.5" ry="1.5" fill="#7a6048" opacity="0.6"/>
<ellipse cx="170" cy="300" rx="1.5" ry="1.2" fill="#7a6048" opacity="0.6"/>
<ellipse cx="190" cy="310" rx="1.5" ry="1.5" fill="#7a6048" opacity="0.6"/>
<ellipse cx="205" cy="285" rx="1.2" ry="1.2" fill="#7a6048" opacity="0.6"/>
<ellipse cx="140" cy="320" rx="1.5" ry="1.2" fill="#7a6048" opacity="0.6"/>
<ellipse cx="300" cy="300" rx="1.3" ry="1.3" fill="#7a6048" opacity="0.6"/>
<ellipse cx="280" cy="320" rx="1.2" ry="1.2" fill="#7a6048" opacity="0.6"/>
<ellipse cx="315" cy="290" rx="1.2" ry="1.2" fill="#7a6048" opacity="0.6"/>
<rect x="230.5" y="267.5" width="97.10000000000002" height="69.0" filter="url(#nCDb)"/>
<rect x="231.2" y="268.2" width="95.70000000000002" height="67.6" fill="none" stroke="#4fb0dc" stroke-width="1.4"/>
<path d="M233.5,333.0L239.5,333.0M233.5,331.5L233.5,334.5M239.5,331.5L239.5,334.5" stroke="#222" stroke-width="0.9"/>
<text x="344.5" y="220.5" font-size="8.4" fill="#222" text-anchor="middle" transform="rotate(-90 344.5 220.5)">PCNSL09</text>
<text x="343.5" y="301.35" font-size="8.4" fill="#222" text-anchor="middle" transform="rotate(-90 343.5 301.35)">PCNSL10</text>
<linearGradient id="gDen" x1="0" x2="1"><stop offset="0" stop-color="#0a0a30"/><stop offset="0.3" stop-color="#4a1a78"/><stop offset="0.6" stop-color="#c83a5a"/><stop offset="0.8" stop-color="#f08a30"/><stop offset="1" stop-color="#fce890"/></linearGradient>
<radialGradient id="gHot"><stop offset="0" stop-color="#ffd860"/><stop offset="0.06" stop-color="#f89838" stop-opacity="0.95"/><stop offset="0.16" stop-color="#e06040" stop-opacity="0.7"/><stop offset="0.4" stop-color="#c05088" stop-opacity="0.6"/><stop offset="0.7" stop-color="#a060a8" stop-opacity="0.4"/><stop offset="1" stop-color="#8a70b0" stop-opacity="0"/></radialGradient>
<rect x="348.4" y="185.7" width="97.6" height="69" fill="#e3e0db"/>
<clipPath id="d348_185"><path d="M377.4,185.7 L428.4,185.7 L429.4,194.8 L427.4,206.5 L424.5,214.4 L418.6,219.3 L408.8,220.3 L399,219.3 L391.1,217.3 L385.2,212.4 L379.3,206.5 L377.4,198.7 L375.4,190.8 Z"/><path d="M432.3,185.7 L446,185.7 L446,220.3 L440,218 L436,210 L433,198 Z"/></clipPath>
<rect x="348.4" y="185.7" width="97.6" height="69" filter="url(#nD)" clip-path="url(#d348_185)"/>
<clipPath id="d348_185l"><path d="M373.5,191 L379,191 L379,202.6 L374,202 Z"/><path d="M348.4,228.1 L357.8,224.2 L365.6,226.2 L371.5,229.1 L381.3,231.1 L391.1,230.1 L399,229.1 L397,234 L391.1,237.9 L388.2,243.8 L385.2,249.7 L377.4,253.6 L348.4,254.7 Z"/></clipPath>
<rect x="348.4" y="185.7" width="97.6" height="69" filter="url(#nD)" clip-path="url(#d348_185l)" opacity="0.6"/>
<clipPath id="hc1"><path d="M377.4,185.7 L428.4,185.7 L429.4,194.8 L427.4,206.5 L424.5,214.4 L418.6,219.3 L408.8,220.3 L399,219.3 L391.1,217.3 L385.2,212.4 L379.3,206.5 L377.4,198.7 L375.4,190.8 Z"/></clipPath><ellipse cx="408.8" cy="205.5" rx="26" ry="20" fill="url(#gHot)" clip-path="url(#hc1)"/>
<rect x="409.2" y="228.5" width="36.80000000000001" height="26.19999999999999" fill="#e6e3de" stroke="#555" stroke-width="0.8"/>
<g fill="#8a82a6"><path d="M418,244 L420,243 L421,250 L419,252 Z"/><path d="M425,238 L428,237 L428,241 L425,241 Z"/><path d="M431,236 L437,235 L438,240 L433,240 Z"/><path d="M433,246 L436,246 L436,249 L433,249 Z"/><path d="M422,246 L425,246 L424,249 Z"/></g>
<rect x="348.79999999999995" y="186.1" width="23.8" height="14.2" fill="#fff" stroke="#333" stroke-width="0.7"/>
<rect x="350.9" y="190.7" width="19" height="4.2" fill="url(#gDen)"/>
<text x="360.7" y="189.5" font-size="2.8" fill="#444" text-anchor="middle" font-weight="normal" >Density</text>
<text x="350.9" y="198.5" font-size="2.5" fill="#444" text-anchor="start" font-weight="normal" >low</text>
<text x="369.9" y="198.5" font-size="2.5" fill="#444" text-anchor="end" font-weight="normal" >high</text>
<path d="M350.4,250.2L357.9,250.2M350.4,248.6L350.4,251.79999999999998M357.9,248.6L357.9,251.79999999999998" stroke="#222" stroke-width="1"/>
<rect x="348.4" y="267" width="97.6" height="69" fill="#e3e0db"/>
<clipPath id="d348_267"><path d="M365.6,267.9 L404.8,267.9 L402.9,273.8 L397,279.7 L393.1,285.6 L388.2,291.5 L383.3,294.4 L377.4,293.4 L371.5,289.5 L367.6,283.6 L365.6,275.8 Z"/><path d="M424.5,267.9 L446,267.9 L446,285.6 L438.2,281.7 L430.3,275.8 L424.5,271.8 Z"/><path d="M348.4,283.6 L353.8,285 L353.8,303.2 L348.4,303.2 Z"/><path d="M348.4,313 L353.8,310.1 L361.7,309.1 L371.5,310.1 L379.3,312.1 L389.2,316 L399,319.9 L409,320.9 L409,336.2 L348.4,336.2 Z"/></clipPath>
<rect x="348.4" y="267" width="97.6" height="69" filter="url(#nD)" clip-path="url(#d348_267)"/>
<clipPath id="d348_267o"><path d="M368,270 L404,268 L398,281 L390,291 L380,293 L372,286 Z"/><path d="M424.5,268 L446,268 L446,286 L430,276 Z"/><path d="M378,313 L399,320 L409,321 L409,336 L380,336 Z"/><path d="M356,311 L372,310 L378,320 L372,332 L358,330 Z"/></clipPath>
<rect x="348.4" y="267" width="97.6" height="69" filter="url(#nDo)" clip-path="url(#d348_267o)" opacity="0.75"/>

<rect x="409.2" y="309.8" width="36.80000000000001" height="26.19999999999999" fill="#e6e3de" stroke="#555" stroke-width="0.8"/>
<g fill="#8a80a8"><path d="M420,312 L426,311 L428,318 L424,324 L420,320 Z"/><path d="M428,312 L433,310.5 L436,316 L433,322 L429,323 Z"/><path d="M412,322 L418,320 L422,324 L419,330 L413,329 Z"/><path d="M421,326 L428,325 L430,331 L424,333 Z"/><path d="M438,322 L443,321 L444,326 L439,327 Z"/></g>
<rect x="348.79999999999995" y="267.4" width="23.8" height="14.2" fill="#fff" stroke="#333" stroke-width="0.7"/>
<rect x="350.9" y="272" width="19" height="4.2" fill="url(#gDen)"/>
<text x="360.7" y="270.8" font-size="2.8" fill="#444" text-anchor="middle" font-weight="normal" >Density</text>
<text x="350.9" y="279.8" font-size="2.5" fill="#444" text-anchor="start" font-weight="normal" >low</text>
<text x="369.9" y="279.8" font-size="2.5" fill="#444" text-anchor="end" font-weight="normal" >high</text>
<path d="M350.4,331.5L357.9,331.5M350.4,329.9L350.4,333.1M357.9,329.9L357.9,333.1" stroke="#222" stroke-width="1"/>
<text x="19" y="366.9" font-size="8.4" fill="#222" text-anchor="start" font-weight="normal" >GSE203552 patient 1</text>
<text x="110" y="366.9" font-size="8.4" fill="#222" text-anchor="start" font-weight="normal" >GSE203552 patient 2</text>
<text x="200" y="366.9" font-size="8.4" fill="#222" text-anchor="start" font-weight="normal" >GSE203552 patient 3</text>
<text x="290.6" y="366.9" font-size="8.4" fill="#222" text-anchor="start" font-weight="normal" >GSE203552 patient 7</text>
<linearGradient id="gE" x1="0" x2="1"><stop offset="0" stop-color="#2a4a9c"/><stop offset="0.15" stop-color="#3884b8"/><stop offset="0.3" stop-color="#88c4a4"/><stop offset="0.45" stop-color="#dce890"/><stop offset="0.56" stop-color="#f8e08a"/><stop offset="0.68" stop-color="#f8a848"/><stop offset="0.83" stop-color="#e6483a"/><stop offset="1" stop-color="#b0143c"/></linearGradient>
<rect x="15.4" y="372.2" width="88.89999999999999" height="88.4" fill="#a2a1a2"/>
<rect x="37.2" y="463.1" width="41.7" height="8.4" fill="url(#gE)"/>
<text x="38.2" y="478.2" font-size="6.4" fill="#333" text-anchor="middle" font-weight="normal" >low</text>
<text x="80.9" y="478.2" font-size="6.4" fill="#333" text-anchor="middle" font-weight="normal" >high</text>
<rect x="106.6" y="372.2" width="87.30000000000001" height="88.4" fill="#a2a1a2"/>
<rect x="127.8" y="463.1" width="41.500000000000014" height="8.4" fill="url(#gE)"/>
<text x="128.8" y="478.2" font-size="6.4" fill="#333" text-anchor="middle" font-weight="normal" >low</text>
<text x="171.3" y="478.2" font-size="6.4" fill="#333" text-anchor="middle" font-weight="normal" >high</text>
<rect x="196.6" y="372.2" width="87.29999999999998" height="88.4" fill="#a2a1a2"/>
<rect x="218.3" y="463.1" width="41.80000000000001" height="8.4" fill="url(#gE)"/>
<text x="219.3" y="478.2" font-size="6.4" fill="#333" text-anchor="middle" font-weight="normal" >low</text>
<text x="262.1" y="478.2" font-size="6.4" fill="#333" text-anchor="middle" font-weight="normal" >high</text>
<rect x="286.6" y="372.2" width="88.09999999999997" height="88.4" fill="#a2a1a2"/>
<rect x="309.6" y="463.1" width="41.299999999999955" height="8.4" fill="url(#gE)"/>
<text x="310.6" y="478.2" font-size="6.4" fill="#333" text-anchor="middle" font-weight="normal" >low</text>
<text x="352.9" y="478.2" font-size="6.4" fill="#333" text-anchor="middle" font-weight="normal" >high</text>
<filter id="soft" x="-20%" y="-20%" width="140%" height="140%"><feGaussianBlur stdDeviation="1.2"/></filter>
<filter id="soft2" x="-20%" y="-20%" width="140%" height="140%"><feGaussianBlur stdDeviation="2"/></filter>
<path d="M44.9,396.2 L49.6,390.6 L57.1,387.8 L62.7,388.7 L63.6,396.2 L60.8,401.8 L55.2,404.6 L47.7,404.6 L44.0,400.9 Z" fill="#2e6aa6" opacity="1" />
<ellipse cx="60" cy="396" rx="3.5" ry="5" fill="#5a9e78" filter="url(#soft)"/>
<path d="M58.9,405.6 L66.4,398.1 L75.8,391.5 L87.0,389.7 L94.5,392.5 L96.4,398.1 L92.7,405.6 L83.3,411.2 L73.9,414.9 L64.6,415.9 L59.9,413.1 Z" fill="#e8a050" opacity="1" />
<g filter="url(#soft)"><ellipse cx="84" cy="396" rx="9" ry="4" fill="#d8402c"/><ellipse cx="76" cy="404" rx="7" ry="4" fill="#c83a30" opacity="0.8"/><ellipse cx="65" cy="410" rx="5" ry="4" fill="#88b878"/><ellipse cx="90" cy="402" rx="4" ry="3" fill="#f0d070"/></g>
<path d="M22.4,407.5 L27.1,402.8 L32.7,401.8 L38.3,405.6 L40.2,411.2 L36.5,414.9 L29.0,415.9 L23.4,414.0 Z" fill="#80b890" opacity="1" />
<ellipse cx="28" cy="410" rx="4" ry="3" fill="#c8d080" filter="url(#soft)"/>
<path d="M42.1,418.7 L47.7,411.2 L55.2,408.4 L61.8,413.1 L63.6,420.6 L60.8,426.2 L53.3,429.9 L45.8,428.0 L42.1,424.3 Z" fill="#4e9c8a" opacity="1" />
<ellipse cx="52" cy="420" rx="4" ry="4" fill="#2e6aa0" filter="url(#soft)" opacity="0.8"/>
<path d="M21.5,418.5 L27.0,417.8 L32.7,419.5 L31.0,423.4 L24.0,423.4 Z" fill="#a8c890" opacity="1" />
<path d="M20.6,431.8 L25.2,428.0 L31.8,429.0 L32.7,434.6 L29.0,438.4 L22.4,437.4 Z" fill="#d4a860" opacity="1" />
<path d="M40.2,442.1 L47.7,435.5 L58.9,433.7 L70.2,431.8 L81.4,429.9 L87.0,431.8 L85.2,437.4 L75.8,441.2 L66.4,443.9 L57.1,446.8 L47.7,446.8 L42.1,445.8 Z" fill="#5aa88a" opacity="1" />
<g filter="url(#soft)"><ellipse cx="56" cy="440" rx="5" ry="3" fill="#3a78a8"/><ellipse cx="72" cy="436" rx="4" ry="2.5" fill="#c8d070"/></g>
<path d="M64.6,421.0 L70.0,420.6 L74.0,423.0 L71.0,426.2 L65.0,425.5 Z" fill="#b8b890" opacity="1" />
<path d="M16.8,424.5 L22.4,424.3 L22.0,427.1 L17.0,427.0 Z" fill="#c8a070" opacity="0.7" />
<path d="M62.7,383.5 L68.3,383.0 L68.0,386.9 L63.0,386.5 Z" fill="#b0a890" opacity="0.7" />
<clipPath id="cE1"><path d="M44.9,396.2 L49.6,390.6 L57.1,387.8 L62.7,388.7 L63.6,396.2 L60.8,401.8 L55.2,404.6 L47.7,404.6 L44.0,400.9 Z"/><path d="M58.9,405.6 L66.4,398.1 L75.8,391.5 L87.0,389.7 L94.5,392.5 L96.4,398.1 L92.7,405.6 L83.3,411.2 L73.9,414.9 L64.6,415.9 L59.9,413.1 Z"/><path d="M22.4,407.5 L27.1,402.8 L32.7,401.8 L38.3,405.6 L40.2,411.2 L36.5,414.9 L29.0,415.9 L23.4,414.0 Z"/><path d="M42.1,418.7 L47.7,411.2 L55.2,408.4 L61.8,413.1 L63.6,420.6 L60.8,426.2 L53.3,429.9 L45.8,428.0 L42.1,424.3 Z"/><path d="M21.5,418.5 L27.0,417.8 L32.7,419.5 L31.0,423.4 L24.0,423.4 Z"/><path d="M20.6,431.8 L25.2,428.0 L31.8,429.0 L32.7,434.6 L29.0,438.4 L22.4,437.4 Z"/><path d="M40.2,442.1 L47.7,435.5 L58.9,433.7 L70.2,431.8 L81.4,429.9 L87.0,431.8 L85.2,437.4 L75.8,441.2 L66.4,443.9 L57.1,446.8 L47.7,446.8 L42.1,445.8 Z"/><path d="M64.6,421.0 L70.0,420.6 L74.0,423.0 L71.0,426.2 L65.0,425.5 Z"/><path d="M16.8,424.5 L22.4,424.3 L22.0,427.1 L17.0,427.0 Z"/><path d="M62.7,383.5 L68.3,383.0 L68.0,386.9 L63.0,386.5 Z"/></clipPath>
<rect x="15" y="372" width="90" height="89" filter="url(#spk)" clip-path="url(#cE1)" opacity="0.5"/>
<g fill="none" stroke="#555" stroke-width="0.5" opacity="0.6"><path d="M44.9,396.2 L49.6,390.6 L57.1,387.8 L62.7,388.7 L63.6,396.2 L60.8,401.8 L55.2,404.6 L47.7,404.6 L44.0,400.9 Z"/><path d="M58.9,405.6 L66.4,398.1 L75.8,391.5 L87.0,389.7 L94.5,392.5 L96.4,398.1 L92.7,405.6 L83.3,411.2 L73.9,414.9 L64.6,415.9 L59.9,413.1 Z"/><path d="M22.4,407.5 L27.1,402.8 L32.7,401.8 L38.3,405.6 L40.2,411.2 L36.5,414.9 L29.0,415.9 L23.4,414.0 Z"/><path d="M42.1,418.7 L47.7,411.2 L55.2,408.4 L61.8,413.1 L63.6,420.6 L60.8,426.2 L53.3,429.9 L45.8,428.0 L42.1,424.3 Z"/><path d="M21.5,418.5 L27.0,417.8 L32.7,419.5 L31.0,423.4 L24.0,423.4 Z"/><path d="M20.6,431.8 L25.2,428.0 L31.8,429.0 L32.7,434.6 L29.0,438.4 L22.4,437.4 Z"/><path d="M40.2,442.1 L47.7,435.5 L58.9,433.7 L70.2,431.8 L81.4,429.9 L87.0,431.8 L85.2,437.4 L75.8,441.2 L66.4,443.9 L57.1,446.8 L47.7,446.8 L42.1,445.8 Z"/><path d="M64.6,421.0 L70.0,420.6 L74.0,423.0 L71.0,426.2 L65.0,425.5 Z"/><path d="M16.8,424.5 L22.4,424.3 L22.0,427.1 L17.0,427.0 Z"/><path d="M62.7,383.5 L68.3,383.0 L68.0,386.9 L63.0,386.5 Z"/></g>
<path d="M108.0,399.0 L118.0,397.0 L122.0,392.0 L126.0,386.0 L133.0,384.0 L139.0,384.5 L138.0,389.0 L133.0,392.0 L129.0,398.0 L124.0,401.0 L108.0,401.0 Z" fill="#3a388a" opacity="1" />
<path d="M141.5,388.0 L145.3,387.8 L145.0,394.3 L142.0,394.0 Z" fill="#3a388a" opacity="1" />
<path d="M153.7,394.3 L157.4,388.7 L163.0,387.8 L168.7,390.6 L174.3,396.2 L166.8,396.2 L159.3,395.3 Z" fill="#3a388a" opacity="1" />
<path d="M141.5,404.6 L149.9,400.0 L161.2,400.0 L166.8,402.8 L163.0,405.6 L153.7,406.5 L144.3,407.5 Z" fill="#3a388a" opacity="1" />
<path d="M168.7,403.7 L172.4,403.7 L172.4,406.5 L168.7,406.5 Z" fill="#3a388a" opacity="1" />
<path d="M170.5,408.4 L176.2,408.4 L176.2,410.3 L170.5,410.3 Z" fill="#3a388a" opacity="1" />
<path d="M108.7,404.6 L116.2,403.7 L120.0,407.5 L119.0,414.0 L115.3,415.9 L110.6,414.9 L108.7,409.3 Z" fill="#3a388a" opacity="1" />
<path d="M133.1,410.3 L138.7,407.5 L148.1,408.4 L157.4,414.9 L164.9,420.6 L165.9,428.0 L161.2,434.6 L153.7,434.6 L146.2,428.0 L136.8,422.4 L132.2,416.8 Z" fill="#3a388a" opacity="1" />
<path d="M170.5,426.2 L174.3,422.4 L179.0,422.4 L181.8,426.2 L179.0,431.8 L173.4,432.7 L170.5,429.9 Z" fill="#3a388a" opacity="1" />
<path d="M140.6,440.2 L146.2,437.4 L157.4,437.4 L161.2,441.2 L159.3,446.8 L149.9,447.7 L142.5,445.8 Z" fill="#3a388a" opacity="1" />
<path d="M121.0,436.0 L123.0,436.0 L123.0,437.5 L121.0,437.5 Z" fill="#3a388a" opacity="1" />
<ellipse cx="164" cy="392" rx="3" ry="2" fill="#3a8ab0" filter="url(#soft)"/>
<ellipse cx="208.5" cy="387.6" rx="3.1" ry="1.7" transform="rotate(1 208.5 387.6)" fill="#3a388a"/>
<ellipse cx="211.2" cy="385.5" rx="2.3" ry="1.9" transform="rotate(23 211.2 385.5)" fill="#3a388a"/>
<ellipse cx="201.5" cy="386.2" rx="1.5" ry="2.2" transform="rotate(15 201.5 386.2)" fill="#3a388a"/>
<ellipse cx="200.4" cy="389.9" rx="3.1" ry="2.0" transform="rotate(9 200.4 389.9)" fill="#3a388a"/>
<ellipse cx="202.7" cy="384.6" rx="2.3" ry="1.1" transform="rotate(-25 202.7 384.6)" fill="#3a388a"/>
<ellipse cx="204.4" cy="384.7" rx="2.2" ry="1.7" transform="rotate(27 204.4 384.7)" fill="#3a388a"/>
<ellipse cx="209.8" cy="388.0" rx="2.2" ry="2.0" transform="rotate(-3 209.8 388.0)" fill="#3a388a"/>
<ellipse cx="205.1" cy="390.0" rx="3.2" ry="2.3" transform="rotate(17 205.1 390.0)" fill="#3a388a"/>
<ellipse cx="228.3" cy="382.8" rx="1.8" ry="1.1" transform="rotate(21 228.3 382.8)" fill="#3a388a"/>
<ellipse cx="229.7" cy="390.2" rx="2.0" ry="2.4" transform="rotate(28 229.7 390.2)" fill="#3a388a"/>
<ellipse cx="222.9" cy="382.5" rx="3.0" ry="1.7" transform="rotate(38 222.9 382.5)" fill="#3a388a"/>
<ellipse cx="229.7" cy="380.9" rx="2.5" ry="2.2" transform="rotate(-18 229.7 380.9)" fill="#3a388a"/>
<ellipse cx="224.4" cy="384.0" rx="3.1" ry="2.1" transform="rotate(-31 224.4 384.0)" fill="#3a388a"/>
<ellipse cx="227.1" cy="381.2" rx="1.4" ry="2.2" transform="rotate(-26 227.1 381.2)" fill="#3a388a"/>
<ellipse cx="232.5" cy="385.4" rx="1.7" ry="2.1" transform="rotate(-30 232.5 385.4)" fill="#3a388a"/>
<ellipse cx="233.9" cy="381.4" rx="2.1" ry="1.3" transform="rotate(-18 233.9 381.4)" fill="#3a388a"/>
<ellipse cx="239.5" cy="389.6" rx="1.9" ry="2.3" transform="rotate(-23 239.5 389.6)" fill="#3a388a"/>
<ellipse cx="229.6" cy="390.3" rx="2.5" ry="1.2" transform="rotate(39 229.6 390.3)" fill="#3a388a"/>
<ellipse cx="226.5" cy="383.1" rx="2.8" ry="1.5" transform="rotate(-16 226.5 383.1)" fill="#3a388a"/>
<ellipse cx="224.2" cy="381.1" rx="2.4" ry="1.4" transform="rotate(8 224.2 381.1)" fill="#3a388a"/>
<ellipse cx="229.3" cy="385.4" rx="3.1" ry="1.7" transform="rotate(6 229.3 385.4)" fill="#3a388a"/>
<ellipse cx="237.7" cy="382.2" rx="1.6" ry="2.4" transform="rotate(25 237.7 382.2)" fill="#3a388a"/>
<ellipse cx="227.2" cy="382.3" rx="2.7" ry="2.4" transform="rotate(-24 227.2 382.3)" fill="#3a388a"/>
<ellipse cx="239.1" cy="390.6" rx="2.4" ry="1.6" transform="rotate(-32 239.1 390.6)" fill="#3a388a"/>
<ellipse cx="223.6" cy="391.6" rx="1.8" ry="2.1" transform="rotate(-19 223.6 391.6)" fill="#3a388a"/>
<ellipse cx="253.7" cy="393.5" rx="1.9" ry="1.3" transform="rotate(18 253.7 393.5)" fill="#3a388a"/>
<ellipse cx="239.3" cy="387.7" rx="2.4" ry="2.3" transform="rotate(9 239.3 387.7)" fill="#3a388a"/>
<ellipse cx="243.3" cy="398.7" rx="1.7" ry="1.0" transform="rotate(-18 243.3 398.7)" fill="#3a388a"/>
<ellipse cx="246.5" cy="385.0" rx="1.6" ry="1.6" transform="rotate(6 246.5 385.0)" fill="#3a388a"/>
<ellipse cx="240.5" cy="389.8" rx="3.0" ry="2.5" transform="rotate(13 240.5 389.8)" fill="#3a388a"/>
<ellipse cx="251.1" cy="393.4" rx="1.6" ry="1.1" transform="rotate(-39 251.1 393.4)" fill="#3a388a"/>
<ellipse cx="255.3" cy="395.2" rx="3.1" ry="1.0" transform="rotate(11 255.3 395.2)" fill="#3a388a"/>
<ellipse cx="247.2" cy="395.7" rx="1.9" ry="2.5" transform="rotate(-34 247.2 395.7)" fill="#3a388a"/>
<ellipse cx="248.4" cy="395.8" rx="3.0" ry="2.1" transform="rotate(16 248.4 395.8)" fill="#3a388a"/>
<ellipse cx="253.1" cy="398.6" rx="2.0" ry="2.0" transform="rotate(32 253.1 398.6)" fill="#3a388a"/>
<ellipse cx="254.6" cy="390.7" rx="2.8" ry="2.3" transform="rotate(6 254.6 390.7)" fill="#3a388a"/>
<ellipse cx="249.9" cy="390.1" rx="2.4" ry="1.9" transform="rotate(-34 249.9 390.1)" fill="#3a388a"/>
<ellipse cx="250.1" cy="399.9" rx="3.0" ry="2.1" transform="rotate(-9 250.1 399.9)" fill="#3a388a"/>
<ellipse cx="252.0" cy="393.3" rx="2.1" ry="2.3" transform="rotate(-33 252.0 393.3)" fill="#3a388a"/>
<ellipse cx="252.3" cy="384.5" rx="2.4" ry="1.7" transform="rotate(-22 252.3 384.5)" fill="#3a388a"/>
<ellipse cx="251.3" cy="392.0" rx="2.5" ry="2.4" transform="rotate(-20 251.3 392.0)" fill="#3a388a"/>
<ellipse cx="238.2" cy="388.8" rx="2.6" ry="1.3" transform="rotate(-26 238.2 388.8)" fill="#3a388a"/>
<ellipse cx="255.2" cy="394.6" rx="2.1" ry="2.3" transform="rotate(-14 255.2 394.6)" fill="#3a388a"/>
<ellipse cx="250.7" cy="387.2" rx="2.1" ry="2.2" transform="rotate(33 250.7 387.2)" fill="#3a388a"/>
<ellipse cx="254.7" cy="390.2" rx="2.4" ry="1.5" transform="rotate(-29 254.7 390.2)" fill="#3a388a"/>
<ellipse cx="247.4" cy="397.4" rx="2.9" ry="2.1" transform="rotate(36 247.4 397.4)" fill="#3a388a"/>
<ellipse cx="243.3" cy="386.7" rx="2.2" ry="1.4" transform="rotate(-23 243.3 386.7)" fill="#3a388a"/>
<ellipse cx="209.8" cy="432.2" rx="2.2" ry="1.5" transform="rotate(27 209.8 432.2)" fill="#3a388a"/>
<ellipse cx="213.9" cy="430.4" rx="1.4" ry="1.0" transform="rotate(30 213.9 430.4)" fill="#3a388a"/>
<ellipse cx="207.1" cy="433.0" rx="2.4" ry="1.5" transform="rotate(23 207.1 433.0)" fill="#3a388a"/>
<ellipse cx="206.9" cy="427.2" rx="2.2" ry="1.0" transform="rotate(26 206.9 427.2)" fill="#3a388a"/>
<ellipse cx="208.5" cy="427.2" rx="1.4" ry="1.9" transform="rotate(-4 208.5 427.2)" fill="#3a388a"/>
<ellipse cx="211.3" cy="432.5" rx="2.8" ry="2.4" transform="rotate(15 211.3 432.5)" fill="#3a388a"/>
<ellipse cx="244.8" cy="381.5" rx="1.6" ry="1.0" transform="rotate(-2 244.8 381.5)" fill="#3a388a"/>
<ellipse cx="248.1" cy="377.8" rx="1.8" ry="1.5" transform="rotate(16 248.1 377.8)" fill="#3a388a"/>
<ellipse cx="246.9" cy="383.2" rx="2.7" ry="1.6" transform="rotate(23 246.9 383.2)" fill="#3a388a"/>
<ellipse cx="249.4" cy="376.7" rx="3.1" ry="2.1" transform="rotate(-30 249.4 376.7)" fill="#3a388a"/>
<ellipse cx="246.4" cy="383.4" rx="3.0" ry="1.6" transform="rotate(6 246.4 383.4)" fill="#3a388a"/>
<ellipse cx="249.2" cy="385.5" rx="3.1" ry="1.7" transform="rotate(12 249.2 385.5)" fill="#3a388a"/>
<ellipse cx="244.8" cy="384.6" rx="2.9" ry="2.0" transform="rotate(17 244.8 384.6)" fill="#3a388a"/>
<ellipse cx="253.8" cy="408.8" rx="3.2" ry="2.5" transform="rotate(3 253.8 408.8)" fill="#3a388a"/>
<ellipse cx="264.2" cy="401.8" rx="3.0" ry="2.3" transform="rotate(-12 264.2 401.8)" fill="#3a388a"/>
<ellipse cx="251.5" cy="403.3" rx="2.3" ry="2.2" transform="rotate(-1 251.5 403.3)" fill="#3a388a"/>
<ellipse cx="250.5" cy="407.7" rx="1.4" ry="2.2" transform="rotate(-26 250.5 407.7)" fill="#3a388a"/>
<ellipse cx="256.0" cy="407.5" rx="1.6" ry="1.2" transform="rotate(1 256.0 407.5)" fill="#3a388a"/>
<ellipse cx="263.0" cy="408.1" rx="2.6" ry="2.4" transform="rotate(-1 263.0 408.1)" fill="#3a388a"/>
<ellipse cx="267.1" cy="399.0" rx="1.7" ry="1.8" transform="rotate(-17 267.1 399.0)" fill="#3a388a"/>
<ellipse cx="263.1" cy="405.7" rx="2.3" ry="2.3" transform="rotate(5 263.1 405.7)" fill="#3a388a"/>
<ellipse cx="255.6" cy="402.6" rx="2.9" ry="2.4" transform="rotate(-23 255.6 402.6)" fill="#3a388a"/>
<ellipse cx="265.3" cy="409.6" rx="2.3" ry="1.9" transform="rotate(-24 265.3 409.6)" fill="#3a388a"/>
<ellipse cx="259.6" cy="404.0" rx="2.4" ry="1.0" transform="rotate(38 259.6 404.0)" fill="#3a388a"/>
<ellipse cx="259.3" cy="402.8" rx="2.8" ry="1.8" transform="rotate(-1 259.3 402.8)" fill="#3a388a"/>
<ellipse cx="262.4" cy="398.8" rx="2.3" ry="1.6" transform="rotate(37 262.4 398.8)" fill="#3a388a"/>
<ellipse cx="266.6" cy="401.2" rx="2.2" ry="1.2" transform="rotate(-5 266.6 401.2)" fill="#3a388a"/>
<ellipse cx="264.7" cy="408.8" rx="2.2" ry="1.5" transform="rotate(-25 264.7 408.8)" fill="#3a388a"/>
<ellipse cx="261.1" cy="409.1" rx="1.5" ry="2.2" transform="rotate(-38 261.1 409.1)" fill="#3a388a"/>
<ellipse cx="253.5" cy="400.7" rx="2.6" ry="1.5" transform="rotate(-12 253.5 400.7)" fill="#3a388a"/>
<ellipse cx="261.2" cy="399.3" rx="2.7" ry="1.2" transform="rotate(1 261.2 399.3)" fill="#3a388a"/>
<ellipse cx="254.5" cy="400.4" rx="2.3" ry="1.7" transform="rotate(-10 254.5 400.4)" fill="#3a388a"/>
<ellipse cx="257.4" cy="404.4" rx="1.6" ry="1.3" transform="rotate(11 257.4 404.4)" fill="#3a388a"/>
<ellipse cx="263.1" cy="411.0" rx="2.9" ry="1.9" transform="rotate(29 263.1 411.0)" fill="#3a388a"/>
<ellipse cx="258.0" cy="414.4" rx="2.8" ry="2.4" transform="rotate(-15 258.0 414.4)" fill="#3a388a"/>
<ellipse cx="259.0" cy="417.4" rx="1.7" ry="2.5" transform="rotate(31 259.0 417.4)" fill="#3a388a"/>
<ellipse cx="256.7" cy="406.4" rx="2.7" ry="1.4" transform="rotate(-32 256.7 406.4)" fill="#3a388a"/>
<ellipse cx="265.6" cy="409.3" rx="2.8" ry="1.2" transform="rotate(-8 265.6 409.3)" fill="#3a388a"/>
<ellipse cx="263.7" cy="402.8" rx="1.7" ry="2.0" transform="rotate(33 263.7 402.8)" fill="#3a388a"/>
<ellipse cx="267.3" cy="404.4" rx="2.3" ry="2.1" transform="rotate(0 267.3 404.4)" fill="#3a388a"/>
<ellipse cx="263.7" cy="405.5" rx="1.4" ry="1.2" transform="rotate(-37 263.7 405.5)" fill="#3a388a"/>
<ellipse cx="262.0" cy="410.8" rx="2.4" ry="1.2" transform="rotate(-25 262.0 410.8)" fill="#3a388a"/>
<ellipse cx="257.6" cy="416.0" rx="3.2" ry="2.4" transform="rotate(-32 257.6 416.0)" fill="#3a388a"/>
<ellipse cx="255.8" cy="417.8" rx="2.2" ry="2.1" transform="rotate(-14 255.8 417.8)" fill="#3a388a"/>
<ellipse cx="260.9" cy="410.8" rx="2.1" ry="1.9" transform="rotate(-39 260.9 410.8)" fill="#3a388a"/>
<ellipse cx="263.9" cy="416.1" rx="1.6" ry="1.7" transform="rotate(19 263.9 416.1)" fill="#3a388a"/>
<ellipse cx="260.1" cy="405.6" rx="1.6" ry="1.8" transform="rotate(-39 260.1 405.6)" fill="#3a388a"/>
<ellipse cx="266.3" cy="415.4" rx="2.6" ry="2.3" transform="rotate(10 266.3 415.4)" fill="#3a388a"/>
<ellipse cx="260.1" cy="412.2" rx="2.3" ry="2.5" transform="rotate(24 260.1 412.2)" fill="#3a388a"/>
<ellipse cx="258.3" cy="417.2" rx="2.7" ry="2.2" transform="rotate(25 258.3 417.2)" fill="#3a388a"/>
<ellipse cx="273.8" cy="428.3" rx="3.0" ry="2.0" transform="rotate(21 273.8 428.3)" fill="#3a388a"/>
<ellipse cx="277.7" cy="406.3" rx="2.7" ry="1.1" transform="rotate(-13 277.7 406.3)" fill="#3a388a"/>
<ellipse cx="274.5" cy="388.5" rx="2.0" ry="2.0" transform="rotate(10 274.5 388.5)" fill="#3a388a"/>
<ellipse cx="272.0" cy="430.5" rx="2.6" ry="1.5" transform="rotate(13 272.0 430.5)" fill="#3a388a"/>
<ellipse cx="275.6" cy="412.0" rx="2.0" ry="2.5" transform="rotate(11 275.6 412.0)" fill="#3a388a"/>
<ellipse cx="277.0" cy="422.3" rx="3.2" ry="1.0" transform="rotate(9 277.0 422.3)" fill="#3a388a"/>
<ellipse cx="277.4" cy="399.5" rx="2.1" ry="1.1" transform="rotate(-24 277.4 399.5)" fill="#3a388a"/>
<ellipse cx="273.5" cy="392.4" rx="1.8" ry="2.4" transform="rotate(4 273.5 392.4)" fill="#3a388a"/>
<ellipse cx="274.9" cy="431.5" rx="2.4" ry="2.5" transform="rotate(11 274.9 431.5)" fill="#3a388a"/>
<ellipse cx="278.2" cy="391.4" rx="2.4" ry="2.1" transform="rotate(-36 278.2 391.4)" fill="#3a388a"/>
<ellipse cx="279.5" cy="395.2" rx="2.2" ry="1.3" transform="rotate(-0 279.5 395.2)" fill="#3a388a"/>
<ellipse cx="276.0" cy="390.6" rx="3.1" ry="1.6" transform="rotate(2 276.0 390.6)" fill="#3a388a"/>
<ellipse cx="275.9" cy="404.5" rx="1.8" ry="2.0" transform="rotate(5 275.9 404.5)" fill="#3a388a"/>
<ellipse cx="272.5" cy="420.2" rx="1.9" ry="1.0" transform="rotate(-20 272.5 420.2)" fill="#3a388a"/>
<ellipse cx="270.0" cy="395.0" rx="2.7" ry="1.6" transform="rotate(32 270.0 395.0)" fill="#3a388a"/>
<ellipse cx="277.5" cy="390.3" rx="3.2" ry="2.4" transform="rotate(-34 277.5 390.3)" fill="#3a388a"/>
<ellipse cx="279.2" cy="407.3" rx="2.2" ry="2.5" transform="rotate(-21 279.2 407.3)" fill="#3a388a"/>
<ellipse cx="275.1" cy="430.2" rx="2.7" ry="1.7" transform="rotate(38 275.1 430.2)" fill="#3a388a"/>
<ellipse cx="278.2" cy="415.2" rx="1.5" ry="1.9" transform="rotate(-4 278.2 415.2)" fill="#3a388a"/>
<ellipse cx="271.7" cy="390.3" rx="2.3" ry="1.2" transform="rotate(-5 271.7 390.3)" fill="#3a388a"/>
<ellipse cx="276.6" cy="408.5" rx="1.8" ry="1.9" transform="rotate(-6 276.6 408.5)" fill="#3a388a"/>
<ellipse cx="277.8" cy="411.9" rx="3.2" ry="2.4" transform="rotate(19 277.8 411.9)" fill="#3a388a"/>
<ellipse cx="272.1" cy="393.1" rx="3.0" ry="2.2" transform="rotate(10 272.1 393.1)" fill="#3a388a"/>
<ellipse cx="241.1" cy="419.3" rx="2.6" ry="1.8" transform="rotate(7 241.1 419.3)" fill="#3a388a"/>
<ellipse cx="244.0" cy="427.1" rx="1.7" ry="1.4" transform="rotate(38 244.0 427.1)" fill="#3a388a"/>
<ellipse cx="247.1" cy="429.1" rx="1.4" ry="1.1" transform="rotate(-18 247.1 429.1)" fill="#3a388a"/>
<ellipse cx="241.8" cy="425.0" rx="1.5" ry="1.8" transform="rotate(-34 241.8 425.0)" fill="#3a388a"/>
<ellipse cx="238.1" cy="425.8" rx="2.3" ry="1.9" transform="rotate(-10 238.1 425.8)" fill="#3a388a"/>
<ellipse cx="242.4" cy="418.4" rx="2.0" ry="2.1" transform="rotate(27 242.4 418.4)" fill="#3a388a"/>
<ellipse cx="238.0" cy="416.9" rx="2.8" ry="1.9" transform="rotate(22 238.0 416.9)" fill="#3a388a"/>
<ellipse cx="239.5" cy="421.8" rx="1.8" ry="2.2" transform="rotate(-10 239.5 421.8)" fill="#3a388a"/>
<ellipse cx="244.3" cy="430.8" rx="1.9" ry="1.8" transform="rotate(20 244.3 430.8)" fill="#3a388a"/>
<ellipse cx="266.0" cy="430.8" rx="2.0" ry="1.1" transform="rotate(30 266.0 430.8)" fill="#3a388a"/>
<ellipse cx="247.7" cy="425.3" rx="2.4" ry="1.7" transform="rotate(15 247.7 425.3)" fill="#3a388a"/>
<ellipse cx="252.5" cy="436.4" rx="1.4" ry="1.3" transform="rotate(13 252.5 436.4)" fill="#3a388a"/>
<ellipse cx="247.8" cy="428.9" rx="2.7" ry="2.0" transform="rotate(-17 247.8 428.9)" fill="#3a388a"/>
<ellipse cx="249.1" cy="429.7" rx="2.7" ry="1.5" transform="rotate(-31 249.1 429.7)" fill="#3a388a"/>
<ellipse cx="261.4" cy="433.1" rx="3.0" ry="2.4" transform="rotate(33 261.4 433.1)" fill="#3a388a"/>
<ellipse cx="255.5" cy="436.8" rx="1.9" ry="1.5" transform="rotate(-8 255.5 436.8)" fill="#3a388a"/>
<ellipse cx="266.3" cy="438.3" rx="1.8" ry="1.5" transform="rotate(-11 266.3 438.3)" fill="#3a388a"/>
<ellipse cx="253.9" cy="430.3" rx="2.0" ry="1.3" transform="rotate(5 253.9 430.3)" fill="#3a388a"/>
<ellipse cx="263.3" cy="432.6" rx="2.9" ry="1.8" transform="rotate(-26 263.3 432.6)" fill="#3a388a"/>
<ellipse cx="262.5" cy="438.1" rx="1.8" ry="1.0" transform="rotate(1 262.5 438.1)" fill="#3a388a"/>
<ellipse cx="257.8" cy="433.1" rx="3.1" ry="2.0" transform="rotate(24 257.8 433.1)" fill="#3a388a"/>
<ellipse cx="247.4" cy="432.7" rx="2.8" ry="1.1" transform="rotate(-33 247.4 432.7)" fill="#3a388a"/>
<ellipse cx="262.0" cy="438.4" rx="1.5" ry="2.0" transform="rotate(-28 262.0 438.4)" fill="#3a388a"/>
<ellipse cx="262.2" cy="434.4" rx="1.8" ry="1.3" transform="rotate(21 262.2 434.4)" fill="#3a388a"/>
<ellipse cx="257.3" cy="436.2" rx="2.0" ry="1.5" transform="rotate(37 257.3 436.2)" fill="#3a388a"/>
<ellipse cx="260.6" cy="431.9" rx="2.3" ry="2.1" transform="rotate(17 260.6 431.9)" fill="#3a388a"/>
<ellipse cx="265.9" cy="430.6" rx="2.9" ry="2.0" transform="rotate(28 265.9 430.6)" fill="#3a388a"/>
<ellipse cx="263.5" cy="437.3" rx="3.0" ry="2.4" transform="rotate(11 263.5 437.3)" fill="#3a388a"/>
<ellipse cx="257.4" cy="435.4" rx="2.8" ry="1.6" transform="rotate(-6 257.4 435.4)" fill="#3a388a"/>
<ellipse cx="249.2" cy="435.9" rx="3.2" ry="1.6" transform="rotate(-27 249.2 435.9)" fill="#3a388a"/>
<ellipse cx="250.4" cy="430.8" rx="1.9" ry="2.5" transform="rotate(-35 250.4 430.8)" fill="#3a388a"/>
<ellipse cx="252.7" cy="425.8" rx="2.5" ry="2.2" transform="rotate(-26 252.7 425.8)" fill="#3a388a"/>
<ellipse cx="247.4" cy="431.3" rx="2.4" ry="2.4" transform="rotate(-37 247.4 431.3)" fill="#3a388a"/>
<ellipse cx="248.4" cy="427.0" rx="1.7" ry="1.4" transform="rotate(17 248.4 427.0)" fill="#3a388a"/>
<ellipse cx="258.9" cy="427.6" rx="1.7" ry="1.4" transform="rotate(-26 258.9 427.6)" fill="#3a388a"/>
<ellipse cx="262.4" cy="429.0" rx="2.3" ry="2.2" transform="rotate(-2 262.4 429.0)" fill="#3a388a"/>
<ellipse cx="251.7" cy="438.2" rx="3.0" ry="1.5" transform="rotate(4 251.7 438.2)" fill="#3a388a"/>
<ellipse cx="266.8" cy="431.7" rx="1.7" ry="1.1" transform="rotate(36 266.8 431.7)" fill="#3a388a"/>
<ellipse cx="263.4" cy="430.2" rx="2.3" ry="1.8" transform="rotate(-18 263.4 430.2)" fill="#3a388a"/>
<ellipse cx="254.9" cy="449.6" rx="1.8" ry="1.0" transform="rotate(-2 254.9 449.6)" fill="#3a388a"/>
<ellipse cx="248.1" cy="450.8" rx="2.7" ry="1.9" transform="rotate(-27 248.1 450.8)" fill="#3a388a"/>
<ellipse cx="245.7" cy="446.6" rx="1.8" ry="2.3" transform="rotate(1 245.7 446.6)" fill="#3a388a"/>
<ellipse cx="251.0" cy="452.5" rx="1.8" ry="1.8" transform="rotate(-28 251.0 452.5)" fill="#3a388a"/>
<ellipse cx="252.5" cy="443.7" rx="2.9" ry="2.3" transform="rotate(26 252.5 443.7)" fill="#3a388a"/>
<ellipse cx="218.1" cy="410.2" rx="2.7" ry="1.1" transform="rotate(-2 218.1 410.2)" fill="#3a388a"/>
<ellipse cx="220.9" cy="416.4" rx="2.4" ry="2.3" transform="rotate(-16 220.9 416.4)" fill="#3a388a"/>
<ellipse cx="223.2" cy="411.6" rx="3.0" ry="1.1" transform="rotate(26 223.2 411.6)" fill="#3a388a"/>
<ellipse cx="219.0" cy="412.7" rx="2.3" ry="1.2" transform="rotate(27 219.0 412.7)" fill="#3a388a"/>
<ellipse cx="264.5" cy="380.5" rx="1.4" ry="1.5" transform="rotate(-3 264.5 380.5)" fill="#3a388a"/>
<ellipse cx="267.7" cy="380.9" rx="2.6" ry="1.2" transform="rotate(-8 267.7 380.9)" fill="#3a388a"/>
<ellipse cx="265.7" cy="385.7" rx="2.9" ry="2.0" transform="rotate(-39 265.7 385.7)" fill="#3a388a"/>
<ellipse cx="265.0" cy="383.7" rx="1.8" ry="1.8" transform="rotate(-3 265.0 383.7)" fill="#3a388a"/>
<path d="M218.0,419.0 L226.0,416.0 L234.0,416.5 L238.0,421.0 L236.0,432.0 L232.0,442.0 L226.0,450.0 L218.0,451.0 L212.0,447.0 L210.0,438.0 L213.0,428.0 Z" fill="#3a388a" opacity="1" />
<path d="M230.0,382.0 L238.0,381.0 L246.0,388.0 L254.0,396.0 L258.0,402.0 L254.0,404.0 L246.0,398.0 L236.0,391.0 L229.0,387.0 Z" fill="#3a388a" opacity="1" />
<path d="M250.0,428.0 L262.0,424.0 L268.0,428.0 L266.0,436.0 L254.0,440.0 L248.0,436.0 Z" fill="#3a388a" opacity="1" />
<path d="M334.3,386.5 L340.8,388.1 L347.3,389.8 L353.9,396.3 L360.4,401.2 L358.7,406.0 L355.5,412.6 L353.9,420.7 L355.5,428.9 L350.6,435.4 L345.7,440.3 L344.1,445.1 L342.5,451.7 L339.2,455.7 L324.5,456.5 L316.4,453.3 L314.8,445.1 L316.4,440.3 L321.3,435.4 L324.5,428.9 L324.5,420.7 L327.8,412.6 L329.4,404.4 L331.0,396.3 L333.5,388.1 Z" fill="#283a7c" opacity="1" />
<clipPath id="cp7"><path d="M334.3,386.5 L340.8,388.1 L347.3,389.8 L353.9,396.3 L360.4,401.2 L358.7,406 L355.5,412.6 L353.9,420.7 L355.5,428.9 L350.6,435.4 L345.7,440.3 L344.1,445.1 L342.5,451.7 L339.2,455.7 L324.5,456.5 L316.4,453.3 L314.8,445.1 L316.4,440.3 L321.3,435.4 L324.5,428.9 L324.5,420.7 L327.8,412.6 L329.4,404.4 L331,396.3 L333.5,388.1 Z"/></clipPath>
<g filter="url(#soft2)" clip-path="url(#cp7)"><ellipse cx="338" cy="420" rx="9" ry="13" fill="#3a88a0" opacity="0.6"/><ellipse cx="347" cy="404" rx="5" ry="4" fill="#4aa0a0" opacity="0.5"/><ellipse cx="330" cy="434" rx="5" ry="4" fill="#3a88a0" opacity="0.45"/><ellipse cx="348" cy="425" rx="2.5" ry="2.5" fill="#a8c860" opacity="0.5"/><ellipse cx="322" cy="450" rx="3" ry="2" fill="#4a9a90" opacity="0.5"/></g>
<path d="M360.4,407.7 L365.3,406.0 L370.1,409.3 L371.8,417.5 L370.1,427.2 L366.9,432.1 L362.0,432.1 L358.7,427.2 L358.7,417.5 Z" fill="#2c3c84" opacity="1" />
<circle cx="344" cy="378.5" r="0.9" fill="#444"/>
<circle cx="357" cy="376.5" r="0.9" fill="#444"/>
<circle cx="362" cy="384" r="0.9" fill="#444"/>
<circle cx="291.5" cy="419.5" r="0.9" fill="#444"/>
<circle cx="296" cy="436.5" r="0.9" fill="#444"/>
<circle cx="290.5" cy="455" r="0.9" fill="#444"/>
<rect x="77.2" y="433.2" width="27.099999999999994" height="27.400000000000034" fill="#a6a6a6" stroke="#333" stroke-width="0.8"/>
<rect x="77.8" y="433.8" width="12.6" height="5" fill="#fff" stroke="#444" stroke-width="0.3"/>
<text x="84.10000000000001" y="437.7" font-size="3.9" fill="#333" text-anchor="middle" font-weight="normal" >B cell</text>
<rect x="167.5" y="433.3" width="26.400000000000006" height="26.5" fill="#b2b5ad" stroke="#333" stroke-width="0.8"/>
<rect x="168.1" y="433.90000000000003" width="12.6" height="5" fill="#fff" stroke="#444" stroke-width="0.3"/>
<text x="174.4" y="437.8" font-size="3.9" fill="#333" text-anchor="middle" font-weight="normal" >B cell</text>
<rect x="258.3" y="434" width="25.599999999999966" height="25.80000000000001" fill="#acadaa" stroke="#333" stroke-width="0.8"/>
<rect x="258.90000000000003" y="434.6" width="12.6" height="5" fill="#fff" stroke="#444" stroke-width="0.3"/>
<text x="265.2" y="438.5" font-size="3.9" fill="#333" text-anchor="middle" font-weight="normal" >B cell</text>
<rect x="348.3" y="434" width="26.399999999999977" height="26.600000000000023" fill="#aeb0ad" stroke="#333" stroke-width="0.8"/>
<rect x="348.90000000000003" y="434.6" width="12.6" height="5" fill="#fff" stroke="#444" stroke-width="0.3"/>
<text x="355.2" y="438.5" font-size="3.9" fill="#333" text-anchor="middle" font-weight="normal" >B cell</text>
<ellipse cx="90" cy="440" rx="5" ry="2" transform="rotate(-15 90 440)" fill="#a8183e" opacity="1"/>
<ellipse cx="97" cy="439" rx="5" ry="2.2" transform="rotate(-10 97 439)" fill="#a8183e" opacity="1"/>
<ellipse cx="86" cy="446" rx="6" ry="2.2" transform="rotate(-10 86 446)" fill="#a8183e" opacity="1"/>
<ellipse cx="96" cy="446" rx="4" ry="2" transform="rotate(-10 96 446)" fill="#a8183e" opacity="1"/>
<ellipse cx="84" cy="452" rx="5" ry="2" transform="rotate(-5 84 452)" fill="#a8183e" opacity="1"/>
<ellipse cx="94" cy="452" rx="6" ry="2" transform="rotate(-10 94 452)" fill="#a8183e" opacity="1"/>
<ellipse cx="100" cy="450" rx="3" ry="2" transform="rotate(0 100 450)" fill="#a8183e" opacity="1"/>
<ellipse cx="178" cy="445" rx="5" ry="2" transform="rotate(-20 178 445)" fill="#c43c30" opacity="0.85"/>
<ellipse cx="184" cy="449" rx="6" ry="2.5" transform="rotate(-15 184 449)" fill="#c43c30" opacity="0.85"/>
<ellipse cx="179" cy="453" rx="4" ry="2" transform="rotate(0 179 453)" fill="#c43c30" opacity="0.85"/>
<ellipse cx="187" cy="455" rx="4" ry="2" transform="rotate(0 187 455)" fill="#c43c30" opacity="0.85"/>
<ellipse cx="175" cy="440" rx="3" ry="1.5" transform="rotate(0 175 440)" fill="#c43c30" opacity="0.85"/>
<ellipse cx="269" cy="446" rx="2" ry="3" transform="rotate(0 269 446)" fill="#d86030" opacity="0.9"/>
<ellipse cx="274" cy="448" rx="2" ry="4" transform="rotate(0 274 448)" fill="#e07030" opacity="0.9"/>
<ellipse cx="264" cy="450" rx="2" ry="2" transform="rotate(0 264 450)" fill="#4070b0" opacity="0.9"/>
<ellipse cx="278" cy="442" rx="2" ry="2" transform="rotate(0 278 442)" fill="#e09040" opacity="0.9"/>
<ellipse cx="272" cy="455" rx="3" ry="1.5" transform="rotate(0 272 455)" fill="#3a388a" opacity="0.9"/>
<ellipse cx="266" cy="443" rx="1.5" ry="2" transform="rotate(0 266 443)" fill="#3a388a" opacity="0.9"/>
<path d="M358.0,450.0 L362.0,443.0 L366.0,439.0 L370.0,440.0 L373.5,445.0 L373.5,453.0 L371.0,458.0 L364.0,459.0 L358.0,458.0 L356.5,454.0 Z" fill="#c02434" opacity="1" />
<path d="M362,446 L365,455 M367,442 L370,452 M364,444 L367,450" stroke="#e08088" stroke-width="0.6"/>
<rect x="15.4" y="372.2" width="47.1" height="10.9" fill="#fff" stroke="#333" stroke-width="0.6"/>
<text x="24.700000000000003" y="380.2" font-size="6.2" fill="#222" text-anchor="start" font-weight="normal" >PBL score</text>
<rect x="106.6" y="372.2" width="45.0" height="10.9" fill="#fff" stroke="#333" stroke-width="0.6"/>
<text x="115.89999999999999" y="380.2" font-size="6.2" fill="#222" text-anchor="start" font-weight="normal" >PBL score</text>
<rect x="196.6" y="372.2" width="45.400000000000006" height="10.9" fill="#fff" stroke="#333" stroke-width="0.6"/>
<text x="205.9" y="380.2" font-size="6.2" fill="#222" text-anchor="start" font-weight="normal" >PBL score</text>
<rect x="286.6" y="372.2" width="46.39999999999998" height="10.9" fill="#fff" stroke="#333" stroke-width="0.6"/>
<text x="295.90000000000003" y="380.2" font-size="6.2" fill="#222" text-anchor="start" font-weight="normal" >PBL score</text>
<path d="M150.5,372.2 L154,372.2 L152,375 Z" fill="#111"/>
<text x="465.8" y="366.3" font-size="6.1" fill="#333" text-anchor="middle" font-weight="normal" >geometric mean</text>
<path d="M416.7,369.2L416.7,454.2L513.8,454.2" stroke="#222" stroke-width="0.8" fill="none"/>
<path d="M414.5,381.8L416.7,381.8" stroke="#222" stroke-width="0.7"/>
<text x="410" y="383.90000000000003" font-size="6.0" fill="#333" text-anchor="middle" font-weight="normal" >6</text>
<path d="M414.5,407.2L416.7,407.2" stroke="#222" stroke-width="0.7"/>
<text x="410" y="409.3" font-size="6.0" fill="#333" text-anchor="middle" font-weight="normal" >4</text>
<path d="M414.5,432.7L416.7,432.7" stroke="#222" stroke-width="0.7"/>
<text x="410" y="434.8" font-size="6.0" fill="#333" text-anchor="middle" font-weight="normal" >2</text>
<path d="M466,369.8L466,454" stroke="#444" stroke-width="0.8" stroke-dasharray="3,2"/>
<text x="465.9" y="462.7" font-size="6.2" fill="#333" text-anchor="middle" font-weight="normal" >Patient</text>
<text x="390.9" y="412" font-size="6.2" fill="#333" text-anchor="middle" transform="rotate(-90 390.9 412)">log</text>
<text x="396.8" y="412.4" font-size="6.4" fill="#333" text-anchor="middle" textLength="74.5" lengthAdjust="spacingAndGlyphs" transform="rotate(-90 396.8 412.4)">(CD138 cell count cells/mm<tspan font-size="4" dy="-2.2">2</tspan><tspan dy="2.2">)</tspan></text>
<circle cx="417.0" cy="449.6" r="1.1" fill="#86cf76"/><circle cx="418.0" cy="447.8" r="1.1" fill="#86cf76"/><circle cx="419.0" cy="446.0" r="1.1" fill="#86cf76"/><circle cx="420.9" cy="444.4" r="1.1" fill="#86cf76"/><circle cx="422.7" cy="442.9" r="1.1" fill="#86cf76"/><circle cx="424.4" cy="441.9" r="1.1" fill="#86cf76"/><circle cx="426.0" cy="441.0" r="1.1" fill="#86cf76"/><circle cx="428.2" cy="440.0" r="1.1" fill="#86cf76"/><circle cx="430.4" cy="439.0" r="1.1" fill="#86cf76"/><circle cx="431.7" cy="437.5" r="1.1" fill="#86cf76"/><circle cx="432.9" cy="436.1" r="1.1" fill="#86cf76"/><circle cx="434.2" cy="434.6" r="1.1" fill="#86cf76"/><circle cx="436.1" cy="434.1" r="1.1" fill="#86cf76"/><circle cx="438.0" cy="433.5" r="1.1" fill="#86cf76"/><circle cx="439.9" cy="432.8" r="1.1" fill="#86cf76"/><circle cx="441.9" cy="432.0" r="1.1" fill="#86cf76"/><circle cx="443.8" cy="431.3" r="1.1" fill="#86cf76"/><circle cx="445.4" cy="430.1" r="1.1" fill="#86cf76"/><circle cx="447.0" cy="429.0" r="1.1" fill="#86cf76"/><circle cx="449.6" cy="426.5" r="1.1" fill="#86cf76"/><circle cx="452.0" cy="425.0" r="1.1" fill="#86cf76"/><circle cx="455.4" cy="423.7" r="1.1" fill="#86cf76"/><circle cx="457.2" cy="422.9" r="1.1" fill="#86cf76"/><circle cx="459.0" cy="422.0" r="1.1" fill="#86cf76"/><circle cx="462.0" cy="420.5" r="1.1" fill="#86cf76"/><circle cx="465.4" cy="419.2" r="1.1" fill="#86cf76"/><circle cx="466.5" cy="414.6" r="1.15" fill="#26266a"/><circle cx="468.3" cy="414.2" r="1.15" fill="#4c64b8"/><circle cx="470.1" cy="413.8" r="1.15" fill="#4c64b8"/><circle cx="471.9" cy="413.4" r="1.15" fill="#26266a"/><circle cx="473.7" cy="413.0" r="1.15" fill="#4c64b8"/><circle cx="476.2" cy="411.2" r="1.2" fill="#1c1c50"/><circle cx="477.5" cy="407.7" r="1.15" fill="#d86070"/><circle cx="479.1" cy="407.0" r="1.15" fill="#5a6cc0"/><circle cx="480.8" cy="406.4" r="1.15" fill="#d86070"/><circle cx="482.4" cy="405.7" r="1.15" fill="#4a5cb0"/><circle cx="484.0" cy="405.0" r="1.15" fill="#d86070"/><circle cx="485.5" cy="403.9" r="1.15" fill="#5a6cc0"/><circle cx="487.0" cy="402.8" r="1.15" fill="#d86070"/><circle cx="488.5" cy="401.7" r="1.15" fill="#4a5cb0"/><circle cx="490.0" cy="400.6" r="1.15" fill="#d86070"/><circle cx="491.5" cy="394.8" r="1.15" fill="#26266a"/><circle cx="493.1" cy="393.5" r="1.15" fill="#5a6cc0"/><circle cx="494.8" cy="392.1" r="1.15" fill="#d86070"/><circle cx="496.4" cy="390.8" r="1.15" fill="#26266a"/><circle cx="498.0" cy="389.5" r="1.15" fill="#26266a"/><circle cx="499.5" cy="388.3" r="1.15" fill="#5a6cc0"/><circle cx="501.0" cy="387.0" r="1.15" fill="#d86070"/><circle cx="502.4" cy="385.8" r="1.15" fill="#26266a"/><circle cx="503.9" cy="384.5" r="1.15" fill="#26266a"/><circle cx="505.4" cy="383.3" r="1.15" fill="#5a6cc0"/><circle cx="506.0" cy="382.0" r="1.15" fill="#e06a7a"/><circle cx="507.3" cy="380.5" r="1.15" fill="#e06a7a"/><circle cx="508.7" cy="379.0" r="1.15" fill="#e06a7a"/><circle cx="510.0" cy="377.5" r="1.15" fill="#e06a7a"/><circle cx="511.5" cy="375.2" r="1.15" fill="#e06a7a"/><circle cx="513.0" cy="373.0" r="1.15" fill="#e06a7a"/>
<circle cx="436.5" cy="470.5" r="1.2" fill="#e06a7a"/>
<text x="440.6" y="472.6" font-size="6.0" fill="#333" text-anchor="start" font-weight="normal" >Diffuse</text>
<path d="M469.7,471.5 L472.3,471.5 L471,469.2 Z" fill="#5a6cc0"/>
<text x="475.1" y="472.6" font-size="6.0" fill="#333" text-anchor="start" font-weight="normal" >Localized</text>
<circle cx="436.5" cy="480.2" r="1.2" fill="#86cf76"/>
<text x="440.6" y="482.3" font-size="6.0" fill="#333" text-anchor="start" font-weight="normal" >Negative</text>
<circle cx="471" cy="480.2" r="1.2" fill="#26266a"/>
<text x="475.1" y="482.3" font-size="6.0" fill="#333" text-anchor="start" font-weight="normal" >Nooverlap</text>
<g shape-rendering="crispEdges"><rect x="0" y="1" width="520" height="1" fill="#c8c8c8"/><rect x="1" y="0" width="1" height="491" fill="#c8c8c8"/><rect x="0" y="489" width="520" height="1" fill="#9c9c9c"/><rect x="518" y="0" width="1" height="491" fill="#9c9c9c"/><rect x="0" y="0" width="520" height="1" fill="#4c4c4c"/><rect x="0" y="0" width="1" height="491" fill="#4c4c4c"/><rect x="0" y="490" width="520" height="1" fill="#3a3a3a"/><rect x="519" y="0" width="1" height="491" fill="#3a3a3a"/></g>
</svg>
</body></html>
